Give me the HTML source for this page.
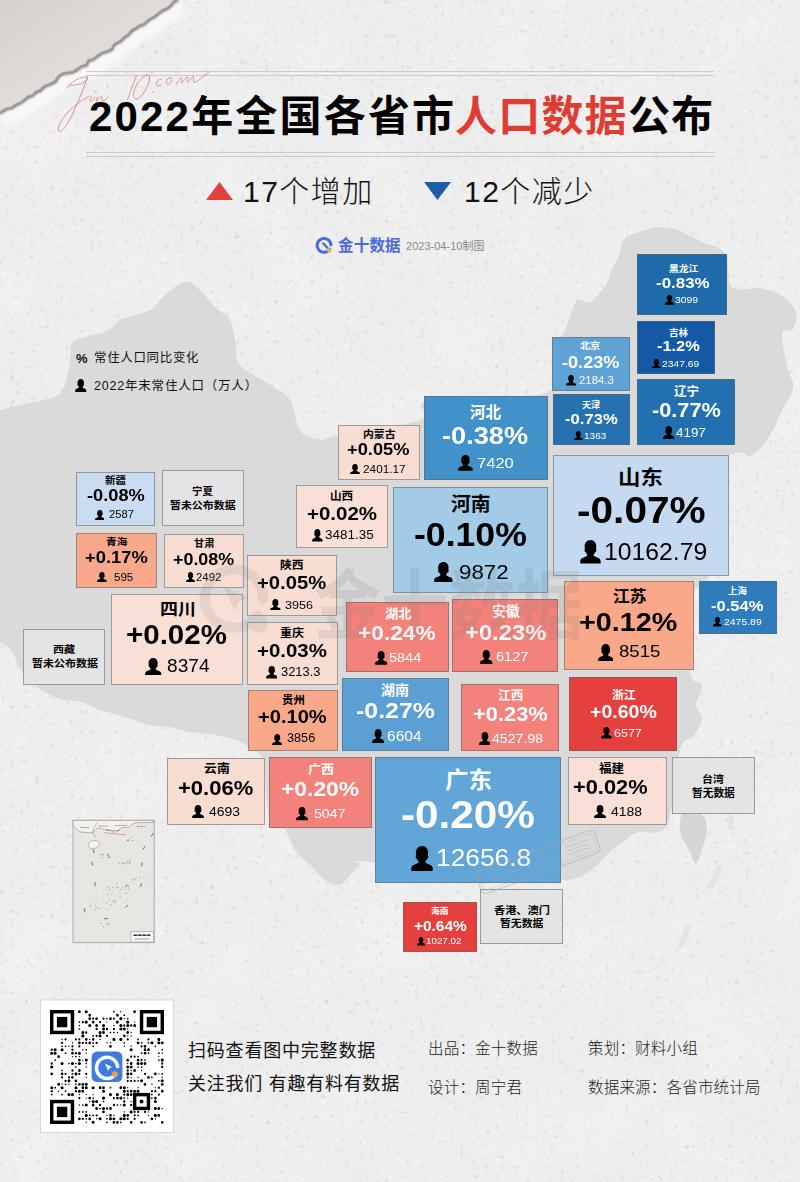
<!DOCTYPE html>
<html lang="zh"><head><meta charset="utf-8"><title>2022年全国各省市人口数据公布</title>
<style>
html,body{margin:0;padding:0}
body{width:800px;height:1182px;position:relative;overflow:hidden;background:#ededed;font-family:"Liberation Sans",sans-serif}
.t{position:absolute;display:block;overflow:visible}
.t text{font-family:"Liberation Sans","Noto Sans CJK SC",sans-serif;font-size:1000px}
.abs{position:absolute}
.tile{position:absolute;box-sizing:border-box;border:1px solid rgba(100,100,100,.58)}
.tile>*{margin:-1px 0 0 -1px}
.tile .pct{position:absolute;font-weight:bold;white-space:nowrap;transform-origin:0 0}
.tile .pop{position:absolute;white-space:nowrap;transform-origin:0 0}
.tile .ic{position:absolute;display:block;fill:#000}
.nd{background:#e4e4e4}
</style></head><body>
<svg class="abs" style="left:0;top:0;pointer-events:none" width="800" height="1182"><defs><filter id="nz" x="0" y="0" width="100%" height="100%"><feTurbulence type="fractalNoise" baseFrequency="0.2" numOctaves="2" seed="4" result="n"/><feColorMatrix type="matrix" values="0 0 0 0 0  0 0 0 0 0  0 0 0 0 0  4 0 0 0 -2.5"/><feGaussianBlur stdDeviation=".7"/></filter><filter id="nw" x="0" y="0" width="100%" height="100%"><feTurbulence type="fractalNoise" baseFrequency="0.16" numOctaves="2" seed="9" result="n"/><feColorMatrix type="matrix" values="0 0 0 0 1  0 0 0 0 1  0 0 0 0 1  4 0 0 0 -2.3"/><feGaussianBlur stdDeviation=".8"/></filter><filter id="bl" x="0" y="0" width="100%" height="100%"><feTurbulence type="fractalNoise" baseFrequency="0.012" numOctaves="3" seed="2"/><feColorMatrix type="matrix" values="0 0 0 0 1  0 0 0 0 1  0 0 0 0 1  1.4 0 0 0 -0.55"/></filter></defs><rect width="800" height="1182" filter="url(#bl)" opacity=".35"/><rect width="800" height="1182" filter="url(#nz)" opacity=".08"/><rect width="800" height="1182" filter="url(#nw)" opacity=".35"/></svg><svg class="abs" style="left:0;top:0" width="800" height="1182" viewBox="0 0 800 1182"><path d="M0 410C4 409 15 406 24 404C33 402 49 400 56 396C63 392 64 388 66 382C68 376 69 367 70 360C71 353 70 346 73 342C76 338 84 338 90 336C96 334 103 334 108 331C113 328 115 322 122 319C129 316 143 314 150 310C157 306 159 300 165 295C171 290 179 283 185 282C191 281 195 286 200 290C205 294 210 302 215 307C220 312 227 314 230 320C233 326 233 332 235 340C237 348 234 358 240 365C246 372 262 379 270 385C278 391 285 392 290 400C295 408 295 423 300 430C305 437 313 439 320 440C327 441 323 438 340 435C357 432 405 426 420 420C435 414 409 405 430 400C451 395 528 401 548 392C568 383 550 354 552 345C554 336 559 340 562 336C565 332 566 326 569 320C572 314 574 303 577 300C580 297 585 304 590 302C595 300 601 292 605 287C609 282 610 274 612 269C614 264 618 259 620 254C622 249 620 243 624 239C628 235 636 233 642 231C648 229 655 227 661 227C667 227 673 228 680 231C687 234 694 238 702 242C710 246 720 246 725 254C730 262 726 281 732 287C738 293 753 286 761 288C769 290 776 292 782 296C788 300 794 306 796 312C798 318 795 325 793 329C791 333 783 327 782 334C781 341 786 360 788 369C790 378 794 381 793 388C792 395 786 403 782 410C778 417 776 426 772 432C768 438 765 444 761 448C757 452 754 455 750 456C746 457 744 451 736 453C728 455 702 462 700 470C698 478 718 485 722 500C726 515 727 543 722 560C717 577 695 581 690 600C685 619 688 658 690 672C692 686 701 680 702 685C703 690 696 700 696 705C696 710 702 713 702 718C702 723 697 732 693 737C689 742 684 735 680 750C676 765 674 811 667 825C660 839 644 829 637 832C630 835 628 838 624 841C620 844 615 847 611 851C607 855 602 860 598 864C594 868 590 871 585 874C580 877 576 879 569 880C562 881 578 881 545 878C512 875 403 864 372 862C341 860 364 863 360 865C356 867 353 872 350 875C347 878 344 884 340 885C336 886 330 883 325 880C320 877 315 870 310 865C305 860 299 856 295 850C291 844 289 835 285 830C281 825 274 831 270 820C266 809 266 774 263 762C260 750 255 752 250 748C245 744 241 742 235 740C229 738 222 736 215 735C208 734 198 733 190 732C182 731 178 728 170 727C162 726 152 726 145 724C138 722 132 719 125 717C118 715 107 712 100 710C93 708 89 704 82 702C75 700 68 702 60 699C52 696 43 692 37 687C31 682 26 678 22 672C18 666 15 655 11 650C7 645 2 643 0 642Z" fill="#dadada"/></svg>
<svg class="abs" style="left:660px;top:800px" width="140" height="160" viewBox="660 800 140 160"><path d="M683 812C689 809 700 811 705 818C709 827 706 839 702 849C700 856 698 862 696 864C693 862 692 855 688 848C683 840 679 833 680 824C680 819 681 815 683 812Z" fill="#d6d6d6"/><g stroke="#e4e4e4" stroke-width="6" stroke-linecap="butt"><path d="M731 814v16"/><path d="M720 866l-10 22"/><path d="M689 925l-9 22"/></g></svg>
<svg class="abs" style="left:60px;top:810px" width="110" height="145" viewBox="60 810 110 145"><rect x="73.0" y="820.3" width="81.2" height="122.4" fill="#e7e6e3" stroke="#9c9c9c" stroke-width=".8"/><path d="M73 826.5c2 .6 3.600 1.600 4.500 3.400 1.500 2 4 2.600 6.500 2.300 3 .3 5.500 .8 8.500 .3 2.200-1 3.200-3.500 5.500-4.600 1.800-.5 3 .8 4.800 1.300 2.500 .6 5-.4 7.200 .7 2 1 3.500 2.600 5.700 2.200 2.600-.6 4-3.600 6.500-4.600 2.200-.6 4.400 .2 6.500-.4 2-.7 3-2.800 4.800-3.600l3.200-.8 16.500-.2V820.300H73z" fill="#f3f1ec" stroke="#8d7d6c" stroke-width=".55"/><path d="M91.5 841c-2.200 .6-3.600 2.800-3 5 .6 2.300 3 3.400 5.400 2.700 2.600-.7 5-2.600 5.600-5 .4-2-1.500-3.200-3.600-3.200-1.600 0-3 .1-4.400 .5z" fill="#f6f3ee" stroke="#8d7d6c" stroke-width=".5"/><path d="M97 822.5c-1 3-3.600 5-4 8.500-.3 2.600 1.200 5 3.600 6.500" fill="none" stroke="#7f93a8" stroke-width=".6"/><path d="M104 832.5c4 1.200 8.500 .6 13 1.600 3 .6 6 .2 9 .8" fill="none" stroke="#c25a55" stroke-width=".7" stroke-dasharray="1.6 .9"/><path d="M80 827.5h9M99 826h9M115 825.5h12M137 826.5h8M106 830.5h14" stroke="#6b5f55" stroke-width=".8" opacity=".7" stroke-dasharray="2.5 .8"/><path d="M151.2 836.4L153.1 833.1M143.0 849.5L144.9 846.2M141.7 866.2L142.0 862.4M140.5 886.8L141.8 883.2M125.4 907.6L128.1 904.9M104.2 919.0L108.0 918.3M84.4 908.5L85.1 912.3M94.9 882.4L95.2 886.2M91.8 861.8L92.8 865.5M93.1 849.5L94.3 853.1" stroke="#4a4a4a" stroke-width="1" opacity=".8"/><g fill="#56524d" opacity=".7"><circle cx="126.3" cy="893.0" r="0.54"/><circle cx="134.4" cy="879.8" r="0.42"/><circle cx="139.5" cy="884.2" r="0.33"/><circle cx="111.8" cy="894.7" r="0.44"/><circle cx="90.7" cy="905.9" r="0.53"/><circle cx="124.0" cy="888.5" r="0.33"/><circle cx="116.8" cy="883.3" r="0.52"/><circle cx="99.6" cy="908.4" r="0.52"/><circle cx="114.5" cy="900.4" r="0.47"/><circle cx="110.4" cy="904.9" r="0.54"/><circle cx="131.9" cy="879.0" r="0.34"/><circle cx="94.4" cy="902.0" r="0.45"/><circle cx="97.2" cy="906.9" r="0.38"/><circle cx="131.3" cy="880.9" r="0.42"/><circle cx="119.7" cy="892.6" r="0.31"/><circle cx="133.6" cy="879.3" r="0.50"/><circle cx="112.2" cy="891.4" r="0.31"/><circle cx="109.5" cy="899.6" r="0.49"/><circle cx="143.3" cy="877.7" r="0.39"/><circle cx="122.4" cy="887.6" r="0.49"/><circle cx="136.0" cy="878.1" r="0.54"/><circle cx="96.1" cy="907.5" r="0.53"/><circle cx="116.2" cy="898.8" r="0.38"/><circle cx="103.9" cy="893.8" r="0.34"/><circle cx="133.2" cy="883.0" r="0.31"/><circle cx="139.7" cy="876.7" r="0.36"/><circle cx="126.3" cy="889.7" r="0.41"/><circle cx="103.2" cy="901.5" r="0.42"/><circle cx="126.9" cy="885.4" r="0.54"/><circle cx="127.4" cy="884.2" r="0.41"/><circle cx="106.4" cy="901.8" r="0.41"/><circle cx="145.1" cy="883.3" r="0.41"/><circle cx="120.0" cy="893.3" r="0.37"/><circle cx="107.4" cy="894.7" r="0.55"/><circle cx="139.9" cy="878.7" r="0.38"/><circle cx="95.0" cy="909.7" r="0.52"/><circle cx="115.1" cy="901.0" r="0.47"/><circle cx="128.5" cy="886.3" r="0.48"/><circle cx="106.9" cy="903.5" r="0.47"/><circle cx="114.5" cy="901.6" r="0.45"/><circle cx="95.6" cy="905.6" r="0.47"/><circle cx="120.2" cy="896.2" r="0.50"/><circle cx="112.4" cy="901.0" r="0.51"/><circle cx="115.5" cy="902.5" r="0.47"/><circle cx="145.6" cy="878.4" r="0.43"/><circle cx="107.0" cy="909.2" r="0.42"/><rect x="107.8" y="857.2" width="1.8" height=".7"/><rect x="101.3" y="857.5" width="1.6" height=".7"/><rect x="107.4" y="855.7" width="1.7" height=".7"/><rect x="108.8" y="856.8" width="1.8" height=".7"/><rect x="99.5" y="854.4" width="1.4" height=".7"/><rect x="107.3" y="854.7" width="1.8" height=".7"/><rect x="107.0" y="853.8" width="1.5" height=".7"/><rect x="102.0" y="853.9" width="1.0" height=".7"/><rect x="103.1" y="854.5" width="1.1" height=".7"/><rect x="118.9" y="862.8" width="1.3" height=".7"/><rect x="126.0" y="863.4" width="1.1" height=".7"/><rect x="129.6" y="860.5" width="1.4" height=".7"/><rect x="121.9" y="862.5" width="1.0" height=".7"/><rect x="128.8" y="862.3" width="0.9" height=".7"/><rect x="126.1" y="861.0" width="1.6" height=".7"/><rect x="122.7" y="863.4" width="2.1" height=".7"/><rect x="128.6" y="862.6" width="1.9" height=".7"/><rect x="127.8" y="838.9" width="1.0" height=".7"/><rect x="127.2" y="839.9" width="2.1" height=".7"/><rect x="131.8" y="840.1" width="1.3" height=".7"/><rect x="130.9" y="837.1" width="1.0" height=".7"/><rect x="126.8" y="840.1" width="1.0" height=".7"/><rect x="102.9" y="926.1" width="1.3" height=".7"/><rect x="100.4" y="922.8" width="1.2" height=".7"/><rect x="107.1" y="923.6" width="2.1" height=".7"/><rect x="106.4" y="924.6" width="1.2" height=".7"/><rect x="116.8" y="887.0" width="1.4" height=".7"/><rect x="108.7" y="889.4" width="1.5" height=".7"/><rect x="108.2" y="886.9" width="1.0" height=".7"/><rect x="112.4" y="886.7" width="1.2" height=".7"/><rect x="128.1" y="888.6" width="0.8" height=".7"/><rect x="125.1" y="885.9" width="2.1" height=".7"/><rect x="128.1" y="885.8" width="1.2" height=".7"/><rect x="120.4" y="889.4" width="1.2" height=".7"/></g><rect x="131" y="931.7" width="22.5" height="10.3" fill="#f7f6f3" stroke="#8a8a8a" stroke-width=".5"/><path d="M133.5 935.3h17" stroke="#333" stroke-width="1.5" stroke-dasharray="3.8 .6"/><path d="M135 939h14" stroke="#666" stroke-width=".8" stroke-dasharray="1.5 .6"/></svg>
<div class="tile" style="left:637.0px;top:253.5px;width:90.0px;height:61.0px;background:#1f6aa8;color:#fff">
<svg class="t" style="left:31.65px;top:10.35px;width:29.36px;height:9.14px;fill:#fff;" viewBox="0 -880 3000 1000" preserveAspectRatio="none"><text x="0" y="0" textLength="3000" font-weight="bold">黑龙江</text></svg>
<div class="pct" style="left:19.21px;top:21.70px;font-size:15.38px;line-height:15.38px;transform:scaleX(1.100)">-0.83%</div>
<svg class="ic" viewBox="0 0 100 100" preserveAspectRatio="none" style="left:28.25px;top:41.75px;width:9.12px;height:9.75px"><path d="M51 0C33 0 22 12 22 28c0 5 1 9 2 12-3 0-4 4-2 7 1 3 3 4 5 4 2 5 5 9 8 11 0 4-2 6-7 8L10 77C4 80 1 85 1 92v4c0 2 2 4 4 4h90c2 0 4-2 4-4v-4c0-7-3-12-9-15L72 70c-5-2-7-4-7-8 3-2 6-6 8-11 2 0 4-1 5-4 2-3 1-7-2-7 1-3 2-7 2-12C78 12 67 0 51 0z"/></svg>
<div class="pop" style="left:37.85px;top:41.93px;font-size:9.72px;line-height:9.72px;transform:scaleX(1.070)">3099</div>
</div>
<div class="tile" style="left:637.0px;top:320.5px;width:77.5px;height:53.5px;background:#1459a6;color:#fff">
<svg class="t" style="left:31.85px;top:7.18px;width:19.02px;height:9.03px;fill:#fff;" viewBox="0 -880 2000 1000" preserveAspectRatio="none"><text x="0" y="0" textLength="2000" font-weight="bold">吉林</text></svg>
<div class="pct" style="left:19.61px;top:18.40px;font-size:14.90px;line-height:14.90px;transform:scaleX(1.100)">-1.2%</div>
<svg class="ic" viewBox="0 0 100 100" preserveAspectRatio="none" style="left:15.25px;top:38.00px;width:8.75px;height:9.62px"><path d="M51 0C33 0 22 12 22 28c0 5 1 9 2 12-3 0-4 4-2 7 1 3 3 4 5 4 2 5 5 9 8 11 0 4-2 6-7 8L10 77C4 80 1 85 1 92v4c0 2 2 4 4 4h90c2 0 4-2 4-4v-4c0-7-3-12-9-15L72 70c-5-2-7-4-7-8 3-2 6-6 8-11 2 0 4-1 5-4 2-3 1-7-2-7 1-3 2-7 2-12C78 12 67 0 51 0z"/></svg>
<div class="pop" style="left:25.23px;top:38.10px;font-size:9.63px;line-height:9.63px;transform:scaleX(1.070)">2347.69</div>
</div>
<div class="tile" style="left:637.0px;top:379.0px;width:98.0px;height:66.0px;background:#2270b0;color:#fff">
<svg class="t" style="left:36.75px;top:5.76px;width:25.10px;height:12.28px;fill:#fff;" viewBox="0 -880 2000 1000" preserveAspectRatio="none"><text x="0" y="0" textLength="2000" font-weight="bold">辽宁</text></svg>
<div class="pct" style="left:14.84px;top:21.59px;font-size:19.74px;line-height:19.74px;transform:scaleX(1.100)">-0.77%</div>
<svg class="ic" viewBox="0 0 100 100" preserveAspectRatio="none" style="left:26.27px;top:47.31px;width:11.41px;height:13.06px"><path d="M51 0C33 0 22 12 22 28c0 5 1 9 2 12-3 0-4 4-2 7 1 3 3 4 5 4 2 5 5 9 8 11 0 4-2 6-7 8L10 77C4 80 1 85 1 92v4c0 2 2 4 4 4h90c2 0 4-2 4-4v-4c0-7-3-12-9-15L72 70c-5-2-7-4-7-8 3-2 6-6 8-11 2 0 4-1 5-4 2-3 1-7-2-7 1-3 2-7 2-12C78 12 67 0 51 0z"/></svg>
<div class="pop" style="left:38.75px;top:47.54px;font-size:12.54px;line-height:12.54px;transform:scaleX(1.070)">4197</div>
</div>
<div class="tile" style="left:551.5px;top:337.0px;width:78.0px;height:53.5px;background:#5fa3d6;color:#fff">
<svg class="t" style="left:28.99px;top:3.88px;width:20.06px;height:9.55px;fill:#fff;" viewBox="0 -880 2000 1000" preserveAspectRatio="none"><text x="0" y="0" textLength="2000" font-weight="bold">北京</text></svg>
<div class="pct" style="left:10.29px;top:17.02px;font-size:16.48px;line-height:16.48px;transform:scaleX(1.100)">-0.23%</div>
<svg class="ic" viewBox="0 0 100 100" preserveAspectRatio="none" style="left:14.12px;top:38.00px;width:10.00px;height:10.62px"><path d="M51 0C33 0 22 12 22 28c0 5 1 9 2 12-3 0-4 4-2 7 1 3 3 4 5 4 2 5 5 9 8 11 0 4-2 6-7 8L10 77C4 80 1 85 1 92v4c0 2 2 4 4 4h90c2 0 4-2 4-4v-4c0-7-3-12-9-15L72 70c-5-2-7-4-7-8 3-2 6-6 8-11 2 0 4-1 5-4 2-3 1-7-2-7 1-3 2-7 2-12C78 12 67 0 51 0z"/></svg>
<div class="pop" style="left:27.93px;top:37.78px;font-size:10.64px;line-height:10.64px;transform:scaleX(1.070)">2184.3</div>
</div>
<div class="tile" style="left:553.0px;top:394.0px;width:76.5px;height:51.0px;background:#2672b0;color:#fff">
<svg class="t" style="left:29.05px;top:5.85px;width:18.21px;height:8.70px;fill:#fff;" viewBox="0 -880 2000 1000" preserveAspectRatio="none"><text x="0" y="0" textLength="2000" font-weight="bold">天津</text></svg>
<div class="pct" style="left:11.98px;top:17.14px;font-size:15.12px;line-height:15.12px;transform:scaleX(1.100)">-0.73%</div>
<svg class="ic" viewBox="0 0 100 100" preserveAspectRatio="none" style="left:20.75px;top:36.62px;width:8.75px;height:9.38px"><path d="M51 0C33 0 22 12 22 28c0 5 1 9 2 12-3 0-4 4-2 7 1 3 3 4 5 4 2 5 5 9 8 11 0 4-2 6-7 8L10 77C4 80 1 85 1 92v4c0 2 2 4 4 4h90c2 0 4-2 4-4v-4c0-7-3-12-9-15L72 70c-5-2-7-4-7-8 3-2 6-6 8-11 2 0 4-1 5-4 2-3 1-7-2-7 1-3 2-7 2-12C78 12 67 0 51 0z"/></svg>
<div class="pop" style="left:30.61px;top:36.57px;font-size:9.44px;line-height:9.44px;transform:scaleX(1.070)">1363</div>
</div>
<div class="tile" style="left:423.5px;top:395.5px;width:124.0px;height:84.5px;background:#4391c9;color:#fff">
<svg class="t" style="left:46.95px;top:8.02px;width:30.87px;height:15.48px;fill:#fff;" viewBox="0 -880 2000 1000" preserveAspectRatio="none"><text x="0" y="0" textLength="2000" font-weight="bold">河北</text></svg>
<div class="pct" style="left:18.44px;top:28.20px;font-size:24.71px;line-height:24.71px;transform:scaleX(1.100)">-0.38%</div>
<svg class="ic" viewBox="0 0 100 100" preserveAspectRatio="none" style="left:34.38px;top:59.88px;width:14.88px;height:15.75px"><path d="M51 0C33 0 22 12 22 28c0 5 1 9 2 12-3 0-4 4-2 7 1 3 3 4 5 4 2 5 5 9 8 11 0 4-2 6-7 8L10 77C4 80 1 85 1 92v4c0 2 2 4 4 4h90c2 0 4-2 4-4v-4c0-7-3-12-9-15L72 70c-5-2-7-4-7-8 3-2 6-6 8-11 2 0 4-1 5-4 2-3 1-7-2-7 1-3 2-7 2-12C78 12 67 0 51 0z"/></svg>
<div class="pop" style="left:53.30px;top:59.80px;font-size:15.48px;line-height:15.48px;transform:scaleX(1.070)">7420</div>
</div>
<div class="tile" style="left:552.5px;top:455.0px;width:176.5px;height:120.5px;background:#c5daf0;color:#000">
<svg class="t" style="left:65.80px;top:12.06px;width:44.81px;height:20.10px;fill:#000;" viewBox="0 -880 2000 1000" preserveAspectRatio="none"><text x="0" y="0" textLength="2000" font-weight="bold">山东</text></svg>
<div class="pct" style="left:24.71px;top:37.77px;font-size:36.91px;line-height:36.91px;transform:scaleX(1.100)">-0.07%</div>
<svg class="ic" viewBox="0 0 100 100" preserveAspectRatio="none" style="left:27.88px;top:85.00px;width:20.92px;height:23.62px"><path d="M51 0C33 0 22 12 22 28c0 5 1 9 2 12-3 0-4 4-2 7 1 3 3 4 5 4 2 5 5 9 8 11 0 4-2 6-7 8L10 77C4 80 1 85 1 92v4c0 2 2 4 4 4h90c2 0 4-2 4-4v-4c0-7-3-12-9-15L72 70c-5-2-7-4-7-8 3-2 6-6 8-11 2 0 4-1 5-4 2-3 1-7-2-7 1-3 2-7 2-12C78 12 67 0 51 0z"/></svg>
<div class="pop" style="left:51.87px;top:85.76px;font-size:23.12px;line-height:23.12px;transform:scaleX(1.070)">10162.79</div>
</div>
<div class="tile" style="left:392.5px;top:486.5px;width:155.5px;height:106.0px;background:#a1cbe6;color:#000">
<svg class="t" style="left:58.54px;top:7.89px;width:39.58px;height:19.29px;fill:#000;" viewBox="0 -880 2000 1000" preserveAspectRatio="none"><text x="0" y="0" textLength="2000" font-weight="bold">河南</text></svg>
<div class="pct" style="left:21.92px;top:32.49px;font-size:32.37px;line-height:32.37px;transform:scaleX(1.100)">-0.10%</div>
<svg class="ic" viewBox="0 0 100 100" preserveAspectRatio="none" style="left:41.38px;top:75.31px;width:18.70px;height:20.19px"><path d="M51 0C33 0 22 12 22 28c0 5 1 9 2 12-3 0-4 4-2 7 1 3 3 4 5 4 2 5 5 9 8 11 0 4-2 6-7 8L10 77C4 80 1 85 1 92v4c0 2 2 4 4 4h90c2 0 4-2 4-4v-4c0-7-3-12-9-15L72 70c-5-2-7-4-7-8 3-2 6-6 8-11 2 0 4-1 5-4 2-3 1-7-2-7 1-3 2-7 2-12C78 12 67 0 51 0z"/></svg>
<div class="pop" style="left:66.89px;top:75.06px;font-size:20.82px;line-height:20.82px;transform:scaleX(1.070)">9872</div>
</div>
<div class="tile" style="left:338.0px;top:424.5px;width:81.5px;height:55.5px;background:#f8ddd2;color:#000">
<svg class="t" style="left:24.60px;top:4.39px;width:32.56px;height:10.34px;fill:#000;" viewBox="0 -880 3000 1000" preserveAspectRatio="none"><text x="0" y="0" textLength="3000" font-weight="bold">内蒙古</text></svg>
<div class="pct" style="left:9.36px;top:17.47px;font-size:16.62px;line-height:16.62px;transform:scaleX(1.100)">+0.05%</div>
<svg class="ic" viewBox="0 0 100 100" preserveAspectRatio="none" style="left:12.00px;top:39.50px;width:10.00px;height:10.38px"><path d="M51 0C33 0 22 12 22 28c0 5 1 9 2 12-3 0-4 4-2 7 1 3 3 4 5 4 2 5 5 9 8 11 0 4-2 6-7 8L10 77C4 80 1 85 1 92v4c0 2 2 4 4 4h90c2 0 4-2 4-4v-4c0-7-3-12-9-15L72 70c-5-2-7-4-7-8 3-2 6-6 8-11 2 0 4-1 5-4 2-3 1-7-2-7 1-3 2-7 2-12C78 12 67 0 51 0z"/></svg>
<div class="pop" style="left:24.91px;top:39.02px;font-size:11.04px;line-height:11.04px;transform:scaleX(1.070)">2401.17</div>
</div>
<div class="tile" style="left:296.0px;top:485.0px;width:91.5px;height:62.5px;background:#f9e0d6;color:#000">
<svg class="t" style="left:34.36px;top:4.85px;width:23.19px;height:11.01px;fill:#000;" viewBox="0 -880 2000 1000" preserveAspectRatio="none"><text x="0" y="0" textLength="2000" font-weight="bold">山西</text></svg>
<div class="pct" style="left:10.86px;top:19.54px;font-size:18.62px;line-height:18.62px;transform:scaleX(1.100)">+0.02%</div>
<svg class="ic" viewBox="0 0 100 100" preserveAspectRatio="none" style="left:16.05px;top:44.45px;width:10.76px;height:12.60px"><path d="M51 0C33 0 22 12 22 28c0 5 1 9 2 12-3 0-4 4-2 7 1 3 3 4 5 4 2 5 5 9 8 11 0 4-2 6-7 8L10 77C4 80 1 85 1 92v4c0 2 2 4 4 4h90c2 0 4-2 4-4v-4c0-7-3-12-9-15L72 70c-5-2-7-4-7-8 3-2 6-6 8-11 2 0 4-1 5-4 2-3 1-7-2-7 1-3 2-7 2-12C78 12 67 0 51 0z"/></svg>
<div class="pop" style="left:29.19px;top:44.23px;font-size:12.60px;line-height:12.60px;transform:scaleX(1.070)">3481.35</div>
</div>
<div class="tile" style="left:75.5px;top:471.5px;width:79.0px;height:54.0px;background:#c9dcf2;color:#000">
<svg class="t" style="left:29.56px;top:3.88px;width:21.04px;height:9.85px;fill:#000;" viewBox="0 -880 2000 1000" preserveAspectRatio="none"><text x="0" y="0" textLength="2000" font-weight="bold">新疆</text></svg>
<div class="pct" style="left:11.16px;top:16.86px;font-size:16.59px;line-height:16.59px;transform:scaleX(1.100)">-0.08%</div>
<svg class="ic" viewBox="0 0 100 100" preserveAspectRatio="none" style="left:19.00px;top:38.50px;width:9.75px;height:10.25px"><path d="M51 0C33 0 22 12 22 28c0 5 1 9 2 12-3 0-4 4-2 7 1 3 3 4 5 4 2 5 5 9 8 11 0 4-2 6-7 8L10 77C4 80 1 85 1 92v4c0 2 2 4 4 4h90c2 0 4-2 4-4v-4c0-7-3-12-9-15L72 70c-5-2-7-4-7-8 3-2 6-6 8-11 2 0 4-1 5-4 2-3 1-7-2-7 1-3 2-7 2-12C78 12 67 0 51 0z"/></svg>
<div class="pop" style="left:33.81px;top:38.38px;font-size:10.45px;line-height:10.45px;transform:scaleX(1.070)">2587</div>
</div>
<div class="tile" style="left:75.5px;top:532.5px;width:81.0px;height:55.0px;background:#f8a98b;color:#000">
<svg class="t" style="left:30.05px;top:4.50px;width:21.43px;height:9.62px;fill:#000;" viewBox="0 -880 2000 1000" preserveAspectRatio="none"><text x="0" y="0" textLength="2000" font-weight="bold">青海</text></svg>
<div class="pct" style="left:9.23px;top:17.06px;font-size:16.68px;line-height:16.68px;transform:scaleX(1.100)">+0.17%</div>
<svg class="ic" viewBox="0 0 100 100" preserveAspectRatio="none" style="left:21.50px;top:39.62px;width:9.75px;height:10.00px"><path d="M51 0C33 0 22 12 22 28c0 5 1 9 2 12-3 0-4 4-2 7 1 3 3 4 5 4 2 5 5 9 8 11 0 4-2 6-7 8L10 77C4 80 1 85 1 92v4c0 2 2 4 4 4h90c2 0 4-2 4-4v-4c0-7-3-12-9-15L72 70c-5-2-7-4-7-8 3-2 6-6 8-11 2 0 4-1 5-4 2-3 1-7-2-7 1-3 2-7 2-12C78 12 67 0 51 0z"/></svg>
<div class="pop" style="left:38.04px;top:39.00px;font-size:10.82px;line-height:10.82px;transform:scaleX(1.070)">595</div>
</div>
<div class="tile" style="left:164.0px;top:533.5px;width:79.5px;height:54.0px;background:#f8ddd2;color:#000">
<svg class="t" style="left:29.68px;top:4.51px;width:20.47px;height:9.72px;fill:#000;" viewBox="0 -880 2000 1000" preserveAspectRatio="none"><text x="0" y="0" textLength="2000" font-weight="bold">甘肃</text></svg>
<div class="pct" style="left:9.25px;top:17.01px;font-size:16.28px;line-height:16.28px;transform:scaleX(1.100)">+0.08%</div>
<svg class="ic" viewBox="0 0 100 100" preserveAspectRatio="none" style="left:22.00px;top:38.50px;width:9.00px;height:10.25px"><path d="M51 0C33 0 22 12 22 28c0 5 1 9 2 12-3 0-4 4-2 7 1 3 3 4 5 4 2 5 5 9 8 11 0 4-2 6-7 8L10 77C4 80 1 85 1 92v4c0 2 2 4 4 4h90c2 0 4-2 4-4v-4c0-7-3-12-9-15L72 70c-5-2-7-4-7-8 3-2 6-6 8-11 2 0 4-1 5-4 2-3 1-7-2-7 1-3 2-7 2-12C78 12 67 0 51 0z"/></svg>
<div class="pop" style="left:32.30px;top:38.17px;font-size:10.62px;line-height:10.62px;transform:scaleX(1.070)">2492</div>
</div>
<div class="tile" style="left:246.5px;top:555.0px;width:90.0px;height:60.5px;background:#f8ddd2;color:#000">
<svg class="t" style="left:33.53px;top:4.27px;width:23.52px;height:11.22px;fill:#000;" viewBox="0 -880 2000 1000" preserveAspectRatio="none"><text x="0" y="0" textLength="2000" font-weight="bold">陕西</text></svg>
<div class="pct" style="left:10.76px;top:19.06px;font-size:18.41px;line-height:18.41px;transform:scaleX(1.100)">+0.05%</div>
<svg class="ic" viewBox="0 0 100 100" preserveAspectRatio="none" style="left:23.69px;top:43.53px;width:10.76px;height:11.81px"><path d="M51 0C33 0 22 12 22 28c0 5 1 9 2 12-3 0-4 4-2 7 1 3 3 4 5 4 2 5 5 9 8 11 0 4-2 6-7 8L10 77C4 80 1 85 1 92v4c0 2 2 4 4 4h90c2 0 4-2 4-4v-4c0-7-3-12-9-15L72 70c-5-2-7-4-7-8 3-2 6-6 8-11 2 0 4-1 5-4 2-3 1-7-2-7 1-3 2-7 2-12C78 12 67 0 51 0z"/></svg>
<div class="pop" style="left:38.96px;top:43.54px;font-size:11.74px;line-height:11.74px;transform:scaleX(1.070)">3956</div>
</div>
<div class="tile" style="left:110.5px;top:593.5px;width:132.5px;height:91.0px;background:#f9e0d6;color:#000">
<svg class="t" style="left:49.07px;top:6.83px;width:35.89px;height:16.62px;fill:#000;" viewBox="0 -880 2000 1000" preserveAspectRatio="none"><text x="0" y="0" textLength="2000" font-weight="bold">四川</text></svg>
<div class="pct" style="left:15.37px;top:28.68px;font-size:26.85px;line-height:26.85px;transform:scaleX(1.100)">+0.02%</div>
<svg class="ic" viewBox="0 0 100 100" preserveAspectRatio="none" style="left:34.74px;top:64.28px;width:16.31px;height:17.22px"><path d="M51 0C33 0 22 12 22 28c0 5 1 9 2 12-3 0-4 4-2 7 1 3 3 4 5 4 2 5 5 9 8 11 0 4-2 6-7 8L10 77C4 80 1 85 1 92v4c0 2 2 4 4 4h90c2 0 4-2 4-4v-4c0-7-3-12-9-15L72 70c-5-2-7-4-7-8 3-2 6-6 8-11 2 0 4-1 5-4 2-3 1-7-2-7 1-3 2-7 2-12C78 12 67 0 51 0z"/></svg>
<div class="pop" style="left:56.74px;top:64.19px;font-size:17.87px;line-height:17.87px;transform:scaleX(1.070)">8374</div>
</div>
<div class="tile" style="left:246.5px;top:621.5px;width:91.5px;height:63.0px;background:#f8ddd2;color:#000">
<svg class="t" style="left:33.94px;top:5.02px;width:24.07px;height:11.33px;fill:#000;" viewBox="0 -880 2000 1000" preserveAspectRatio="none"><text x="0" y="0" textLength="2000" font-weight="bold">重庆</text></svg>
<div class="pct" style="left:10.75px;top:20.18px;font-size:18.59px;line-height:18.59px;transform:scaleX(1.100)">+0.03%</div>
<svg class="ic" viewBox="0 0 100 100" preserveAspectRatio="none" style="left:19.49px;top:44.62px;width:11.42px;height:12.47px"><path d="M51 0C33 0 22 12 22 28c0 5 1 9 2 12-3 0-4 4-2 7 1 3 3 4 5 4 2 5 5 9 8 11 0 4-2 6-7 8L10 77C4 80 1 85 1 92v4c0 2 2 4 4 4h90c2 0 4-2 4-4v-4c0-7-3-12-9-15L72 70c-5-2-7-4-7-8 3-2 6-6 8-11 2 0 4-1 5-4 2-3 1-7-2-7 1-3 2-7 2-12C78 12 67 0 51 0z"/></svg>
<div class="pop" style="left:34.35px;top:44.93px;font-size:12.07px;line-height:12.07px;transform:scaleX(1.070)">3213.3</div>
</div>
<div class="tile" style="left:346.0px;top:601.5px;width:102.5px;height:70.0px;background:#f3827b;color:#fff">
<svg class="t" style="left:38.96px;top:5.02px;width:26.38px;height:12.69px;fill:#fff;" viewBox="0 -880 2000 1000" preserveAspectRatio="none"><text x="0" y="0" textLength="2000" font-weight="bold">湖北</text></svg>
<div class="pct" style="left:12.45px;top:21.93px;font-size:20.67px;line-height:20.67px;transform:scaleX(1.100)">+0.24%</div>
<svg class="ic" viewBox="0 0 100 100" preserveAspectRatio="none" style="left:28.50px;top:49.56px;width:12.22px;height:13.66px"><path d="M51 0C33 0 22 12 22 28c0 5 1 9 2 12-3 0-4 4-2 7 1 3 3 4 5 4 2 5 5 9 8 11 0 4-2 6-7 8L10 77C4 80 1 85 1 92v4c0 2 2 4 4 4h90c2 0 4-2 4-4v-4c0-7-3-12-9-15L72 70c-5-2-7-4-7-8 3-2 6-6 8-11 2 0 4-1 5-4 2-3 1-7-2-7 1-3 2-7 2-12C78 12 67 0 51 0z"/></svg>
<div class="pop" style="left:43.45px;top:49.60px;font-size:13.53px;line-height:13.53px;transform:scaleX(1.070)">5844</div>
</div>
<div class="tile" style="left:452.0px;top:598.5px;width:106.0px;height:73.0px;background:#f3827b;color:#fff">
<svg class="t" style="left:40.32px;top:5.48px;width:27.83px;height:13.31px;fill:#fff;" viewBox="0 -880 2000 1000" preserveAspectRatio="none"><text x="0" y="0" textLength="2000" font-weight="bold">安徽</text></svg>
<div class="pct" style="left:12.88px;top:23.05px;font-size:21.61px;line-height:21.61px;transform:scaleX(1.100)">+0.23%</div>
<svg class="ic" viewBox="0 0 100 100" preserveAspectRatio="none" style="left:28.19px;top:51.76px;width:12.54px;height:14.01px"><path d="M51 0C33 0 22 12 22 28c0 5 1 9 2 12-3 0-4 4-2 7 1 3 3 4 5 4 2 5 5 9 8 11 0 4-2 6-7 8L10 77C4 80 1 85 1 92v4c0 2 2 4 4 4h90c2 0 4-2 4-4v-4c0-7-3-12-9-15L72 70c-5-2-7-4-7-8 3-2 6-6 8-11 2 0 4-1 5-4 2-3 1-7-2-7 1-3 2-7 2-12C78 12 67 0 51 0z"/></svg>
<div class="pop" style="left:44.41px;top:51.77px;font-size:13.63px;line-height:13.63px;transform:scaleX(1.070)">6127</div>
</div>
<div class="tile" style="left:563.5px;top:581.0px;width:130.5px;height:89.0px;background:#f9a88a;color:#000">
<svg class="t" style="left:49.36px;top:6.60px;width:33.54px;height:16.11px;fill:#000;" viewBox="0 -880 2000 1000" preserveAspectRatio="none"><text x="0" y="0" textLength="2000" font-weight="bold">江苏</text></svg>
<div class="pct" style="left:15.48px;top:27.73px;font-size:26.15px;line-height:26.15px;transform:scaleX(1.100)">+0.12%</div>
<svg class="ic" viewBox="0 0 100 100" preserveAspectRatio="none" style="left:34.44px;top:62.87px;width:15.44px;height:17.22px"><path d="M51 0C33 0 22 12 22 28c0 5 1 9 2 12-3 0-4 4-2 7 1 3 3 4 5 4 2 5 5 9 8 11 0 4-2 6-7 8L10 77C4 80 1 85 1 92v4c0 2 2 4 4 4h90c2 0 4-2 4-4v-4c0-7-3-12-9-15L72 70c-5-2-7-4-7-8 3-2 6-6 8-11 2 0 4-1 5-4 2-3 1-7-2-7 1-3 2-7 2-12C78 12 67 0 51 0z"/></svg>
<div class="pop" style="left:55.46px;top:62.49px;font-size:17.37px;line-height:17.37px;transform:scaleX(1.070)">8515</div>
</div>
<div class="tile" style="left:699.0px;top:581.0px;width:77.5px;height:52.5px;background:#2e7cbc;color:#fff">
<svg class="t" style="left:29.07px;top:5.34px;width:18.90px;height:8.90px;fill:#fff;" viewBox="0 -880 2000 1000" preserveAspectRatio="none"><text x="0" y="0" textLength="2000" font-weight="bold">上海</text></svg>
<div class="pct" style="left:12.25px;top:16.53px;font-size:15.06px;line-height:15.06px;transform:scaleX(1.100)">-0.54%</div>
<svg class="ic" viewBox="0 0 100 100" preserveAspectRatio="none" style="left:14.25px;top:36.19px;width:8.77px;height:9.56px"><path d="M51 0C33 0 22 12 22 28c0 5 1 9 2 12-3 0-4 4-2 7 1 3 3 4 5 4 2 5 5 9 8 11 0 4-2 6-7 8L10 77C4 80 1 85 1 92v4c0 2 2 4 4 4h90c2 0 4-2 4-4v-4c0-7-3-12-9-15L72 70c-5-2-7-4-7-8 3-2 6-6 8-11 2 0 4-1 5-4 2-3 1-7-2-7 1-3 2-7 2-12C78 12 67 0 51 0z"/></svg>
<div class="pop" style="left:25.20px;top:36.13px;font-size:9.75px;line-height:9.75px;transform:scaleX(1.070)">2475.89</div>
</div>
<div class="tile" style="left:248.0px;top:689.5px;width:90.0px;height:61.0px;background:#f9a88a;color:#000">
<svg class="t" style="left:33.58px;top:4.25px;width:22.98px;height:11.22px;fill:#000;" viewBox="0 -880 2000 1000" preserveAspectRatio="none"><text x="0" y="0" textLength="2000" font-weight="bold">贵州</text></svg>
<div class="pct" style="left:10.48px;top:18.91px;font-size:18.27px;line-height:18.27px;transform:scaleX(1.100)">+0.10%</div>
<svg class="ic" viewBox="0 0 100 100" preserveAspectRatio="none" style="left:23.93px;top:44.03px;width:10.50px;height:11.42px"><path d="M51 0C33 0 22 12 22 28c0 5 1 9 2 12-3 0-4 4-2 7 1 3 3 4 5 4 2 5 5 9 8 11 0 4-2 6-7 8L10 77C4 80 1 85 1 92v4c0 2 2 4 4 4h90c2 0 4-2 4-4v-4c0-7-3-12-9-15L72 70c-5-2-7-4-7-8 3-2 6-6 8-11 2 0 4-1 5-4 2-3 1-7-2-7 1-3 2-7 2-12C78 12 67 0 51 0z"/></svg>
<div class="pop" style="left:38.80px;top:43.85px;font-size:11.85px;line-height:11.85px;transform:scaleX(1.070)">3856</div>
</div>
<div class="tile" style="left:341.5px;top:677.5px;width:107.0px;height:73.0px;background:#5b9fd5;color:#fff">
<svg class="t" style="left:39.96px;top:5.12px;width:28.10px;height:13.61px;fill:#fff;" viewBox="0 -880 2000 1000" preserveAspectRatio="none"><text x="0" y="0" textLength="2000" font-weight="bold">湖南</text></svg>
<div class="pct" style="left:14.28px;top:22.26px;font-size:22.63px;line-height:22.63px;transform:scaleX(1.100)">-0.27%</div>
<svg class="ic" viewBox="0 0 100 100" preserveAspectRatio="none" style="left:30.70px;top:51.70px;width:12.30px;height:14.10px"><path d="M51 0C33 0 22 12 22 28c0 5 1 9 2 12-3 0-4 4-2 7 1 3 3 4 5 4 2 5 5 9 8 11 0 4-2 6-7 8L10 77C4 80 1 85 1 92v4c0 2 2 4 4 4h90c2 0 4-2 4-4v-4c0-7-3-12-9-15L72 70c-5-2-7-4-7-8 3-2 6-6 8-11 2 0 4-1 5-4 2-3 1-7-2-7 1-3 2-7 2-12C78 12 67 0 51 0z"/></svg>
<div class="pop" style="left:45.21px;top:51.61px;font-size:14.51px;line-height:14.51px;transform:scaleX(1.070)">6604</div>
</div>
<div class="tile" style="left:461.0px;top:684.0px;width:98.0px;height:66.5px;background:#f3827b;color:#fff">
<svg class="t" style="left:36.92px;top:5.00px;width:25.33px;height:12.24px;fill:#fff;" viewBox="0 -880 2000 1000" preserveAspectRatio="none"><text x="0" y="0" textLength="2000" font-weight="bold">江西</text></svg>
<div class="pct" style="left:11.64px;top:21.12px;font-size:19.88px;line-height:19.88px;transform:scaleX(1.100)">+0.23%</div>
<svg class="ic" viewBox="0 0 100 100" preserveAspectRatio="none" style="left:17.65px;top:47.62px;width:11.83px;height:13.06px"><path d="M51 0C33 0 22 12 22 28c0 5 1 9 2 12-3 0-4 4-2 7 1 3 3 4 5 4 2 5 5 9 8 11 0 4-2 6-7 8L10 77C4 80 1 85 1 92v4c0 2 2 4 4 4h90c2 0 4-2 4-4v-4c0-7-3-12-9-15L72 70c-5-2-7-4-7-8 3-2 6-6 8-11 2 0 4-1 5-4 2-3 1-7-2-7 1-3 2-7 2-12C78 12 67 0 51 0z"/></svg>
<div class="pop" style="left:30.80px;top:47.52px;font-size:13.22px;line-height:13.22px;transform:scaleX(1.070)">4527.98</div>
</div>
<div class="tile" style="left:568.5px;top:677.0px;width:108.0px;height:74.0px;background:#e5403d;color:#fff">
<svg class="t" style="left:43.94px;top:12.29px;width:23.67px;height:11.44px;fill:#fff;" viewBox="0 -880 2000 1000" preserveAspectRatio="none"><text x="0" y="0" textLength="2000" font-weight="bold">浙江</text></svg>
<div class="pct" style="left:21.93px;top:27.07px;font-size:17.78px;line-height:17.78px;transform:scaleX(1.100)">+0.60%</div>
<svg class="ic" viewBox="0 0 100 100" preserveAspectRatio="none" style="left:32.80px;top:50.25px;width:10.95px;height:11.55px"><path d="M51 0C33 0 22 12 22 28c0 5 1 9 2 12-3 0-4 4-2 7 1 3 3 4 5 4 2 5 5 9 8 11 0 4-2 6-7 8L10 77C4 80 1 85 1 92v4c0 2 2 4 4 4h90c2 0 4-2 4-4v-4c0-7-3-12-9-15L72 70c-5-2-7-4-7-8 3-2 6-6 8-11 2 0 4-1 5-4 2-3 1-7-2-7 1-3 2-7 2-12C78 12 67 0 51 0z"/></svg>
<div class="pop" style="left:45.07px;top:50.16px;font-size:11.68px;line-height:11.68px;transform:scaleX(1.070)">6577</div>
</div>
<div class="tile" style="left:166.5px;top:757.5px;width:98.5px;height:67.5px;background:#f8ddd2;color:#000">
<svg class="t" style="left:37.05px;top:4.71px;width:25.75px;height:12.34px;fill:#000;" viewBox="0 -880 2000 1000" preserveAspectRatio="none"><text x="0" y="0" textLength="2000" font-weight="bold">云南</text></svg>
<div class="pct" style="left:11.90px;top:20.90px;font-size:20.02px;line-height:20.02px;transform:scaleX(1.100)">+0.06%</div>
<svg class="ic" viewBox="0 0 100 100" preserveAspectRatio="none" style="left:25.98px;top:47.82px;width:12.04px;height:13.16px"><path d="M51 0C33 0 22 12 22 28c0 5 1 9 2 12-3 0-4 4-2 7 1 3 3 4 5 4 2 5 5 9 8 11 0 4-2 6-7 8L10 77C4 80 1 85 1 92v4c0 2 2 4 4 4h90c2 0 4-2 4-4v-4c0-7-3-12-9-15L72 70c-5-2-7-4-7-8 3-2 6-6 8-11 2 0 4-1 5-4 2-3 1-7-2-7 1-3 2-7 2-12C78 12 67 0 51 0z"/></svg>
<div class="pop" style="left:42.18px;top:47.85px;font-size:13.04px;line-height:13.04px;transform:scaleX(1.070)">4693</div>
</div>
<div class="tile" style="left:269.0px;top:757.0px;width:102.5px;height:70.5px;background:#f3827b;color:#fff">
<svg class="t" style="left:38.85px;top:5.82px;width:26.10px;height:12.50px;fill:#fff;" viewBox="0 -880 2000 1000" preserveAspectRatio="none"><text x="0" y="0" textLength="2000" font-weight="bold">广西</text></svg>
<div class="pct" style="left:12.34px;top:22.36px;font-size:20.77px;line-height:20.77px;transform:scaleX(1.100)">+0.20%</div>
<svg class="ic" viewBox="0 0 100 100" preserveAspectRatio="none" style="left:27.07px;top:50.26px;width:12.04px;height:13.34px"><path d="M51 0C33 0 22 12 22 28c0 5 1 9 2 12-3 0-4 4-2 7 1 3 3 4 5 4 2 5 5 9 8 11 0 4-2 6-7 8L10 77C4 80 1 85 1 92v4c0 2 2 4 4 4h90c2 0 4-2 4-4v-4c0-7-3-12-9-15L72 70c-5-2-7-4-7-8 3-2 6-6 8-11 2 0 4-1 5-4 2-3 1-7-2-7 1-3 2-7 2-12C78 12 67 0 51 0z"/></svg>
<div class="pop" style="left:44.63px;top:50.30px;font-size:13.21px;line-height:13.21px;transform:scaleX(1.070)">5047</div>
</div>
<div class="tile" style="left:375.0px;top:757.0px;width:185.5px;height:126.0px;background:#62a6d8;color:#fff">
<svg class="t" style="left:69.53px;top:10.88px;width:47.11px;height:22.41px;fill:#fff;" viewBox="0 -880 2000 1000" preserveAspectRatio="none"><text x="0" y="0" textLength="2000" font-weight="bold">广东</text></svg>
<div class="pct" style="left:26.35px;top:39.44px;font-size:38.45px;line-height:38.45px;transform:scaleX(1.100)">-0.20%</div>
<svg class="ic" viewBox="0 0 100 100" preserveAspectRatio="none" style="left:35.50px;top:89.25px;width:22.00px;height:25.00px"><path d="M51 0C33 0 22 12 22 28c0 5 1 9 2 12-3 0-4 4-2 7 1 3 3 4 5 4 2 5 5 9 8 11 0 4-2 6-7 8L10 77C4 80 1 85 1 92v4c0 2 2 4 4 4h90c2 0 4-2 4-4v-4c0-7-3-12-9-15L72 70c-5-2-7-4-7-8 3-2 6-6 8-11 2 0 4-1 5-4 2-3 1-7-2-7 1-3 2-7 2-12C78 12 67 0 51 0z"/></svg>
<div class="pop" style="left:61.49px;top:89.39px;font-size:24.60px;line-height:24.60px;transform:scaleX(1.070)">12656.8</div>
</div>
<div class="tile" style="left:568.0px;top:757.0px;width:98.5px;height:67.5px;background:#f9e0d6;color:#000">
<svg class="t" style="left:30.58px;top:5.41px;width:25.05px;height:12.16px;fill:#000;" viewBox="0 -880 2000 1000" preserveAspectRatio="none"><text x="0" y="0" textLength="2000" font-weight="bold">福建</text></svg>
<div class="pct" style="left:5.40px;top:21.49px;font-size:19.83px;line-height:19.83px;transform:scaleX(1.100)">+0.02%</div>
<svg class="ic" viewBox="0 0 100 100" preserveAspectRatio="none" style="left:26.48px;top:48.32px;width:12.04px;height:13.16px"><path d="M51 0C33 0 22 12 22 28c0 5 1 9 2 12-3 0-4 4-2 7 1 3 3 4 5 4 2 5 5 9 8 11 0 4-2 6-7 8L10 77C4 80 1 85 1 92v4c0 2 2 4 4 4h90c2 0 4-2 4-4v-4c0-7-3-12-9-15L72 70c-5-2-7-4-7-8 3-2 6-6 8-11 2 0 4-1 5-4 2-3 1-7-2-7 1-3 2-7 2-12C78 12 67 0 51 0z"/></svg>
<div class="pop" style="left:42.68px;top:48.35px;font-size:13.03px;line-height:13.03px;transform:scaleX(1.070)">4188</div>
</div>
<div class="tile" style="left:403.0px;top:901.5px;width:73.5px;height:50.0px;background:#e5403d;color:#fff">
<svg class="t" style="left:28.34px;top:5.84px;width:17.51px;height:8.46px;fill:#fff;" viewBox="0 -880 2000 1000" preserveAspectRatio="none"><text x="0" y="0" textLength="2000" font-weight="bold">海南</text></svg>
<div class="pct" style="left:10.55px;top:17.00px;font-size:14.00px;line-height:14.00px;transform:scaleX(1.100)">+0.64%</div>
<svg class="ic" viewBox="0 0 100 100" preserveAspectRatio="none" style="left:14.21px;top:35.64px;width:7.96px;height:8.60px"><path d="M51 0C33 0 22 12 22 28c0 5 1 9 2 12-3 0-4 4-2 7 1 3 3 4 5 4 2 5 5 9 8 11 0 4-2 6-7 8L10 77C4 80 1 85 1 92v4c0 2 2 4 4 4h90c2 0 4-2 4-4v-4c0-7-3-12-9-15L72 70c-5-2-7-4-7-8 3-2 6-6 8-11 2 0 4-1 5-4 2-3 1-7-2-7 1-3 2-7 2-12C78 12 67 0 51 0z"/></svg>
<div class="pop" style="left:23.35px;top:35.34px;font-size:9.16px;line-height:9.16px;transform:scaleX(1.070)">1027.02</div>
</div>
<div class="tile nd" style="left:161.5px;top:469.5px;width:82.0px;height:56.0px">
<svg class="t" style="left:30.34px;top:16.56px;width:21.09px;height:10.14px;fill:#000;" viewBox="0 -880 2000 1000" preserveAspectRatio="none"><text x="0" y="0" textLength="2000" font-weight="bold">宁夏</text></svg>
<svg class="t" style="left:8.36px;top:30.04px;width:65.55px;height:10.23px;fill:#000;" viewBox="0 -880 6000 1000" preserveAspectRatio="none"><text x="0" y="0" textLength="6000" font-weight="bold">暂未公布数据</text></svg>
</div>
<div class="tile nd" style="left:23.0px;top:628.5px;width:82.0px;height:56.0px">
<svg class="t" style="left:30.33px;top:15.44px;width:22.02px;height:9.83px;fill:#000;" viewBox="0 -880 2000 1000" preserveAspectRatio="none"><text x="0" y="0" textLength="2000" font-weight="bold">西藏</text></svg>
<svg class="t" style="left:8.60px;top:29.87px;width:66.05px;height:10.38px;fill:#000;" viewBox="0 -880 6000 1000" preserveAspectRatio="none"><text x="0" y="0" textLength="6000" font-weight="bold">暂未公布数据</text></svg>
</div>
<div class="tile nd" style="left:671.5px;top:757.0px;width:83.0px;height:56.5px">
<svg class="t" style="left:30.61px;top:16.58px;width:21.76px;height:10.56px;fill:#000;" viewBox="0 -880 2000 1000" preserveAspectRatio="none"><text x="0" y="0" textLength="2000" font-weight="bold">台湾</text></svg>
<svg class="t" style="left:20.61px;top:29.81px;width:42.78px;height:10.83px;fill:#000;" viewBox="0 -880 4000 1000" preserveAspectRatio="none"><text x="0" y="0" textLength="4000" font-weight="bold">暂无数据</text></svg>
</div>
<div class="tile nd" style="left:480.0px;top:888.5px;width:82.5px;height:55.5px">
<svg class="t" style="left:13.57px;top:16.12px;width:55.80px;height:10.30px;fill:#000;" viewBox="0 -880 5000 1000" preserveAspectRatio="none"><text x="0" y="0" textLength="5000" font-weight="bold">香港、澳门</text></svg>
<svg class="t" style="left:20.21px;top:29.05px;width:43.39px;height:10.44px;fill:#000;" viewBox="0 -880 4000 1000" preserveAspectRatio="none"><text x="0" y="0" textLength="4000" font-weight="bold">暂无数据</text></svg>
</div>
<svg class="abs" style="left:196px;top:561px;opacity:.13" width="76" height="76" viewBox="0 0 34 34"><path d="M27.5 24.5A13 13 0 1 1 30 17" fill="none" stroke="#777" stroke-width="4.6" stroke-linecap="round"/><path d="M12 11l11 5.5-4 1.8-1.700 4.200z" fill="#777"/><circle cx="28" cy="28" r="4.2" fill="#777"/></svg>
<svg class="t" style="left:314.00px;top:566.00px;width:269.04px;height:76.00px;fill:#777;opacity:0.15;" viewBox="0 -880 4000 1000" preserveAspectRatio="none"><text x="0" y="0" textLength="4000" font-weight="bold">金十数据</text></svg>
<svg class="abs" style="left:468px;top:802px;opacity:.42" width="140" height="120" viewBox="-70 -60 140 120"><g transform="rotate(-20)" fill="none" stroke="#a4a4a4"><rect x="-63" y="-12" width="126" height="24" rx="5" stroke-width="1.3"/><rect x="-60" y="-9" width="120" height="18" rx="3.5" stroke-width=".6"/><path d="M30 -4c3-2 5 2 8 0s5 2 8 0 5 2 8 0M30 0c3-2 5 2 8 0s5 2 8 0 5 2 8 0M30 4c3-2 5 2 8 0s5 2 8 0 5 2 8 0" stroke-width=".9"/><path d="M-52 0h74" stroke-width="5" stroke-dasharray="7 2.2" opacity=".4"/></g></svg>
<svg class="abs" style="left:0;top:990px" width="200" height="160" viewBox="0 990 200 160"><rect x="40.4" y="1000" width="133.2" height="132.4" fill="#fff" stroke="#d0d0d0" stroke-width=".8"/><rect x="51.73" y="1011.73" width="20.73" height="20.73" fill="none" stroke="#000" stroke-width="3.45"/><rect x="56.91" y="1016.91" width="10.36" height="10.36" fill="#000"/><rect x="141.55" y="1011.73" width="20.73" height="20.73" fill="none" stroke="#000" stroke-width="3.45"/><rect x="146.73" y="1016.91" width="10.36" height="10.36" fill="#000"/><rect x="51.73" y="1101.55" width="20.73" height="20.73" fill="none" stroke="#000" stroke-width="3.45"/><rect x="56.91" y="1106.73" width="10.36" height="10.36" fill="#000"/><rect x="134.64" y="1094.64" width="13.82" height="13.82" fill="none" stroke="#000" stroke-width="3.45"/><rect x="139.82" y="1099.82" width="3.45" height="3.45" fill="#000"/><path d="M78.1 1011.7a1.30 1.30 0 1 0 2.59 0a1.30 1.30 0 1 0 -2.59 0M84.7 1011.7a1.55 1.55 0 1 0 3.11 0a1.55 1.55 0 1 0 -3.11 0M113.0 1011.7a0.86 0.86 0 1 0 1.73 0a0.86 0.86 0 1 0 -1.73 0M120.1 1011.7a0.69 0.69 0 1 0 1.38 0a0.69 0.69 0 1 0 -1.38 0M133.3 1011.7a1.30 1.30 0 1 0 2.59 0a1.30 1.30 0 1 0 -2.59 0M88.4 1015.2a1.30 1.30 0 1 0 2.59 0a1.30 1.30 0 1 0 -2.59 0M116.1 1015.2a1.30 1.30 0 1 0 2.59 0a1.30 1.30 0 1 0 -2.59 0M123.4 1015.2a0.86 0.86 0 1 0 1.73 0a0.86 0.86 0 1 0 -1.73 0M88.4 1018.6a1.30 1.30 0 1 0 2.59 0a1.30 1.30 0 1 0 -2.59 0M92.1 1018.6a1.04 1.04 0 1 0 2.07 0a1.04 1.04 0 1 0 -2.07 0M95.3 1018.6a1.30 1.30 0 1 0 2.59 0a1.30 1.30 0 1 0 -2.59 0M102.5 1018.6a1.04 1.04 0 1 0 2.07 0a1.04 1.04 0 1 0 -2.07 0M106.1 1018.6a0.86 0.86 0 1 0 1.73 0a0.86 0.86 0 1 0 -1.73 0M109.2 1018.6a1.30 1.30 0 1 0 2.59 0a1.30 1.30 0 1 0 -2.59 0M112.9 1018.6a1.04 1.04 0 1 0 2.07 0a1.04 1.04 0 1 0 -2.07 0M119.3 1018.6a1.55 1.55 0 1 0 3.11 0a1.55 1.55 0 1 0 -3.11 0M123.6 1018.6a0.69 0.69 0 1 0 1.38 0a0.69 0.69 0 1 0 -1.38 0M126.9 1018.6a0.86 0.86 0 1 0 1.73 0a0.86 0.86 0 1 0 -1.73 0M78.5 1022.1a0.86 0.86 0 1 0 1.73 0a0.86 0.86 0 1 0 -1.73 0M81.8 1022.1a1.04 1.04 0 1 0 2.07 0a1.04 1.04 0 1 0 -2.07 0M84.7 1022.1a1.55 1.55 0 1 0 3.11 0a1.55 1.55 0 1 0 -3.11 0M91.9 1022.1a1.30 1.30 0 1 0 2.59 0a1.30 1.30 0 1 0 -2.59 0M99.1 1022.1a1.04 1.04 0 1 0 2.07 0a1.04 1.04 0 1 0 -2.07 0M106.3 1022.1a0.69 0.69 0 1 0 1.38 0a0.69 0.69 0 1 0 -1.38 0M115.8 1022.1a1.55 1.55 0 1 0 3.11 0a1.55 1.55 0 1 0 -3.11 0M126.2 1022.1a1.55 1.55 0 1 0 3.11 0a1.55 1.55 0 1 0 -3.11 0M133.9 1022.1a0.69 0.69 0 1 0 1.38 0a0.69 0.69 0 1 0 -1.38 0M78.7 1025.5a0.69 0.69 0 1 0 1.38 0a0.69 0.69 0 1 0 -1.38 0M88.2 1025.5a1.55 1.55 0 1 0 3.11 0a1.55 1.55 0 1 0 -3.11 0M95.3 1025.5a1.30 1.30 0 1 0 2.59 0a1.30 1.30 0 1 0 -2.59 0M102.0 1025.5a1.55 1.55 0 1 0 3.11 0a1.55 1.55 0 1 0 -3.11 0M113.2 1025.5a0.69 0.69 0 1 0 1.38 0a0.69 0.69 0 1 0 -1.38 0M119.3 1025.5a1.55 1.55 0 1 0 3.11 0a1.55 1.55 0 1 0 -3.11 0M123.2 1025.5a1.04 1.04 0 1 0 2.07 0a1.04 1.04 0 1 0 -2.07 0M126.2 1025.5a1.55 1.55 0 1 0 3.11 0a1.55 1.55 0 1 0 -3.11 0M130.1 1025.5a1.04 1.04 0 1 0 2.07 0a1.04 1.04 0 1 0 -2.07 0M133.1 1025.5a1.55 1.55 0 1 0 3.11 0a1.55 1.55 0 1 0 -3.11 0M78.5 1029.0a0.86 0.86 0 1 0 1.73 0a0.86 0.86 0 1 0 -1.73 0M95.6 1029.0a1.04 1.04 0 1 0 2.07 0a1.04 1.04 0 1 0 -2.07 0M102.0 1029.0a1.55 1.55 0 1 0 3.11 0a1.55 1.55 0 1 0 -3.11 0M106.0 1029.0a1.04 1.04 0 1 0 2.07 0a1.04 1.04 0 1 0 -2.07 0M112.9 1029.0a1.04 1.04 0 1 0 2.07 0a1.04 1.04 0 1 0 -2.07 0M119.3 1029.0a1.55 1.55 0 1 0 3.11 0a1.55 1.55 0 1 0 -3.11 0M122.7 1029.0a1.55 1.55 0 1 0 3.11 0a1.55 1.55 0 1 0 -3.11 0M127.0 1029.0a0.69 0.69 0 1 0 1.38 0a0.69 0.69 0 1 0 -1.38 0M81.3 1032.5a1.55 1.55 0 1 0 3.11 0a1.55 1.55 0 1 0 -3.11 0M85.2 1032.5a1.04 1.04 0 1 0 2.07 0a1.04 1.04 0 1 0 -2.07 0M98.5 1032.5a1.55 1.55 0 1 0 3.11 0a1.55 1.55 0 1 0 -3.11 0M102.2 1032.5a1.30 1.30 0 1 0 2.59 0a1.30 1.30 0 1 0 -2.59 0M109.6 1032.5a0.86 0.86 0 1 0 1.73 0a0.86 0.86 0 1 0 -1.73 0M113.0 1032.5a0.86 0.86 0 1 0 1.73 0a0.86 0.86 0 1 0 -1.73 0M116.7 1032.5a0.69 0.69 0 1 0 1.38 0a0.69 0.69 0 1 0 -1.38 0M126.4 1032.5a1.30 1.30 0 1 0 2.59 0a1.30 1.30 0 1 0 -2.59 0M130.5 1032.5a0.69 0.69 0 1 0 1.38 0a0.69 0.69 0 1 0 -1.38 0M81.3 1035.9a1.55 1.55 0 1 0 3.11 0a1.55 1.55 0 1 0 -3.11 0M92.3 1035.9a0.86 0.86 0 1 0 1.73 0a0.86 0.86 0 1 0 -1.73 0M95.6 1035.9a1.04 1.04 0 1 0 2.07 0a1.04 1.04 0 1 0 -2.07 0M98.5 1035.9a1.55 1.55 0 1 0 3.11 0a1.55 1.55 0 1 0 -3.11 0M106.0 1035.9a1.04 1.04 0 1 0 2.07 0a1.04 1.04 0 1 0 -2.07 0M123.0 1035.9a1.30 1.30 0 1 0 2.59 0a1.30 1.30 0 1 0 -2.59 0M127.0 1035.9a0.69 0.69 0 1 0 1.38 0a0.69 0.69 0 1 0 -1.38 0M130.5 1035.9a0.69 0.69 0 1 0 1.38 0a0.69 0.69 0 1 0 -1.38 0M61.4 1039.4a0.69 0.69 0 1 0 1.38 0a0.69 0.69 0 1 0 -1.38 0M64.5 1039.4a1.04 1.04 0 1 0 2.07 0a1.04 1.04 0 1 0 -2.07 0M74.9 1039.4a1.04 1.04 0 1 0 2.07 0a1.04 1.04 0 1 0 -2.07 0M78.3 1039.4a1.04 1.04 0 1 0 2.07 0a1.04 1.04 0 1 0 -2.07 0M85.0 1039.4a1.30 1.30 0 1 0 2.59 0a1.30 1.30 0 1 0 -2.59 0M89.0 1039.4a0.69 0.69 0 1 0 1.38 0a0.69 0.69 0 1 0 -1.38 0M91.9 1039.4a1.30 1.30 0 1 0 2.59 0a1.30 1.30 0 1 0 -2.59 0M99.4 1039.4a0.69 0.69 0 1 0 1.38 0a0.69 0.69 0 1 0 -1.38 0M112.4 1039.4a1.55 1.55 0 1 0 3.11 0a1.55 1.55 0 1 0 -3.11 0M119.3 1039.4a1.55 1.55 0 1 0 3.11 0a1.55 1.55 0 1 0 -3.11 0M126.7 1039.4a1.04 1.04 0 1 0 2.07 0a1.04 1.04 0 1 0 -2.07 0M137.2 1039.4a0.86 0.86 0 1 0 1.73 0a0.86 0.86 0 1 0 -1.73 0M147.4 1039.4a1.04 1.04 0 1 0 2.07 0a1.04 1.04 0 1 0 -2.07 0M157.3 1039.4a1.55 1.55 0 1 0 3.11 0a1.55 1.55 0 1 0 -3.11 0M61.1 1042.8a1.04 1.04 0 1 0 2.07 0a1.04 1.04 0 1 0 -2.07 0M71.8 1042.8a0.69 0.69 0 1 0 1.38 0a0.69 0.69 0 1 0 -1.38 0M78.1 1042.8a1.30 1.30 0 1 0 2.59 0a1.30 1.30 0 1 0 -2.59 0M81.8 1042.8a1.04 1.04 0 1 0 2.07 0a1.04 1.04 0 1 0 -2.07 0M85.2 1042.8a1.04 1.04 0 1 0 2.07 0a1.04 1.04 0 1 0 -2.07 0M88.4 1042.8a1.30 1.30 0 1 0 2.59 0a1.30 1.30 0 1 0 -2.59 0M92.3 1042.8a0.86 0.86 0 1 0 1.73 0a0.86 0.86 0 1 0 -1.73 0M95.6 1042.8a1.04 1.04 0 1 0 2.07 0a1.04 1.04 0 1 0 -2.07 0M106.3 1042.8a0.69 0.69 0 1 0 1.38 0a0.69 0.69 0 1 0 -1.38 0M109.8 1042.8a0.69 0.69 0 1 0 1.38 0a0.69 0.69 0 1 0 -1.38 0M123.4 1042.8a0.86 0.86 0 1 0 1.73 0a0.86 0.86 0 1 0 -1.73 0M136.8 1042.8a1.30 1.30 0 1 0 2.59 0a1.30 1.30 0 1 0 -2.59 0M140.7 1042.8a0.86 0.86 0 1 0 1.73 0a0.86 0.86 0 1 0 -1.73 0M147.6 1042.8a0.86 0.86 0 1 0 1.73 0a0.86 0.86 0 1 0 -1.73 0M150.4 1042.8a1.55 1.55 0 1 0 3.11 0a1.55 1.55 0 1 0 -3.11 0M157.3 1042.8a1.55 1.55 0 1 0 3.11 0a1.55 1.55 0 1 0 -3.11 0M161.0 1042.8a1.30 1.30 0 1 0 2.59 0a1.30 1.30 0 1 0 -2.59 0M61.2 1046.3a0.86 0.86 0 1 0 1.73 0a0.86 0.86 0 1 0 -1.73 0M64.7 1046.3a0.86 0.86 0 1 0 1.73 0a0.86 0.86 0 1 0 -1.73 0M68.3 1046.3a0.69 0.69 0 1 0 1.38 0a0.69 0.69 0 1 0 -1.38 0M71.4 1046.3a1.04 1.04 0 1 0 2.07 0a1.04 1.04 0 1 0 -2.07 0M78.3 1046.3a1.04 1.04 0 1 0 2.07 0a1.04 1.04 0 1 0 -2.07 0M92.3 1046.3a0.86 0.86 0 1 0 1.73 0a0.86 0.86 0 1 0 -1.73 0M109.2 1046.3a1.30 1.30 0 1 0 2.59 0a1.30 1.30 0 1 0 -2.59 0M123.6 1046.3a0.69 0.69 0 1 0 1.38 0a0.69 0.69 0 1 0 -1.38 0M130.5 1046.3a0.69 0.69 0 1 0 1.38 0a0.69 0.69 0 1 0 -1.38 0M140.5 1046.3a1.04 1.04 0 1 0 2.07 0a1.04 1.04 0 1 0 -2.07 0M143.7 1046.3a1.30 1.30 0 1 0 2.59 0a1.30 1.30 0 1 0 -2.59 0M154.5 1046.3a0.86 0.86 0 1 0 1.73 0a0.86 0.86 0 1 0 -1.73 0M50.7 1049.7a1.04 1.04 0 1 0 2.07 0a1.04 1.04 0 1 0 -2.07 0M53.6 1049.7a1.55 1.55 0 1 0 3.11 0a1.55 1.55 0 1 0 -3.11 0M60.5 1049.7a1.55 1.55 0 1 0 3.11 0a1.55 1.55 0 1 0 -3.11 0M71.4 1049.7a1.04 1.04 0 1 0 2.07 0a1.04 1.04 0 1 0 -2.07 0M82.1 1049.7a0.69 0.69 0 1 0 1.38 0a0.69 0.69 0 1 0 -1.38 0M85.4 1049.7a0.86 0.86 0 1 0 1.73 0a0.86 0.86 0 1 0 -1.73 0M129.6 1049.7a1.55 1.55 0 1 0 3.11 0a1.55 1.55 0 1 0 -3.11 0M143.7 1049.7a1.30 1.30 0 1 0 2.59 0a1.30 1.30 0 1 0 -2.59 0M147.2 1049.7a1.30 1.30 0 1 0 2.59 0a1.30 1.30 0 1 0 -2.59 0M161.4 1049.7a0.86 0.86 0 1 0 1.73 0a0.86 0.86 0 1 0 -1.73 0M50.2 1053.2a1.55 1.55 0 1 0 3.11 0a1.55 1.55 0 1 0 -3.11 0M53.6 1053.2a1.55 1.55 0 1 0 3.11 0a1.55 1.55 0 1 0 -3.11 0M64.7 1053.2a0.86 0.86 0 1 0 1.73 0a0.86 0.86 0 1 0 -1.73 0M71.2 1053.2a1.30 1.30 0 1 0 2.59 0a1.30 1.30 0 1 0 -2.59 0M74.9 1053.2a1.04 1.04 0 1 0 2.07 0a1.04 1.04 0 1 0 -2.07 0M77.8 1053.2a1.55 1.55 0 1 0 3.11 0a1.55 1.55 0 1 0 -3.11 0M85.6 1053.2a0.69 0.69 0 1 0 1.38 0a0.69 0.69 0 1 0 -1.38 0M140.7 1053.2a0.86 0.86 0 1 0 1.73 0a0.86 0.86 0 1 0 -1.73 0M143.7 1053.2a1.30 1.30 0 1 0 2.59 0a1.30 1.30 0 1 0 -2.59 0M147.6 1053.2a0.86 0.86 0 1 0 1.73 0a0.86 0.86 0 1 0 -1.73 0M158.0 1053.2a0.86 0.86 0 1 0 1.73 0a0.86 0.86 0 1 0 -1.73 0M161.6 1053.2a0.69 0.69 0 1 0 1.38 0a0.69 0.69 0 1 0 -1.38 0M57.3 1056.6a1.30 1.30 0 1 0 2.59 0a1.30 1.30 0 1 0 -2.59 0M71.8 1056.6a0.69 0.69 0 1 0 1.38 0a0.69 0.69 0 1 0 -1.38 0M75.0 1056.6a0.86 0.86 0 1 0 1.73 0a0.86 0.86 0 1 0 -1.73 0M78.7 1056.6a0.69 0.69 0 1 0 1.38 0a0.69 0.69 0 1 0 -1.38 0M130.1 1056.6a1.04 1.04 0 1 0 2.07 0a1.04 1.04 0 1 0 -2.07 0M133.6 1056.6a1.04 1.04 0 1 0 2.07 0a1.04 1.04 0 1 0 -2.07 0M137.2 1056.6a0.86 0.86 0 1 0 1.73 0a0.86 0.86 0 1 0 -1.73 0M158.1 1056.6a0.69 0.69 0 1 0 1.38 0a0.69 0.69 0 1 0 -1.38 0M54.3 1060.1a0.86 0.86 0 1 0 1.73 0a0.86 0.86 0 1 0 -1.73 0M78.1 1060.1a1.30 1.30 0 1 0 2.59 0a1.30 1.30 0 1 0 -2.59 0M82.1 1060.1a0.69 0.69 0 1 0 1.38 0a0.69 0.69 0 1 0 -1.38 0M84.7 1060.1a1.55 1.55 0 1 0 3.11 0a1.55 1.55 0 1 0 -3.11 0M126.4 1060.1a1.30 1.30 0 1 0 2.59 0a1.30 1.30 0 1 0 -2.59 0M136.8 1060.1a1.30 1.30 0 1 0 2.59 0a1.30 1.30 0 1 0 -2.59 0M140.5 1060.1a1.04 1.04 0 1 0 2.07 0a1.04 1.04 0 1 0 -2.07 0M144.1 1060.1a0.86 0.86 0 1 0 1.73 0a0.86 0.86 0 1 0 -1.73 0M158.0 1060.1a0.86 0.86 0 1 0 1.73 0a0.86 0.86 0 1 0 -1.73 0M160.7 1060.1a1.55 1.55 0 1 0 3.11 0a1.55 1.55 0 1 0 -3.11 0M50.7 1063.5a1.04 1.04 0 1 0 2.07 0a1.04 1.04 0 1 0 -2.07 0M60.5 1063.5a1.55 1.55 0 1 0 3.11 0a1.55 1.55 0 1 0 -3.11 0M68.1 1063.5a0.86 0.86 0 1 0 1.73 0a0.86 0.86 0 1 0 -1.73 0M70.9 1063.5a1.55 1.55 0 1 0 3.11 0a1.55 1.55 0 1 0 -3.11 0M75.0 1063.5a0.86 0.86 0 1 0 1.73 0a0.86 0.86 0 1 0 -1.73 0M77.8 1063.5a1.55 1.55 0 1 0 3.11 0a1.55 1.55 0 1 0 -3.11 0M85.4 1063.5a0.86 0.86 0 1 0 1.73 0a0.86 0.86 0 1 0 -1.73 0M127.0 1063.5a0.69 0.69 0 1 0 1.38 0a0.69 0.69 0 1 0 -1.38 0M129.9 1063.5a1.30 1.30 0 1 0 2.59 0a1.30 1.30 0 1 0 -2.59 0M136.5 1063.5a1.55 1.55 0 1 0 3.11 0a1.55 1.55 0 1 0 -3.11 0M140.0 1063.5a1.55 1.55 0 1 0 3.11 0a1.55 1.55 0 1 0 -3.11 0M143.7 1063.5a1.30 1.30 0 1 0 2.59 0a1.30 1.30 0 1 0 -2.59 0M161.2 1063.5a1.04 1.04 0 1 0 2.07 0a1.04 1.04 0 1 0 -2.07 0M50.2 1067.0a1.55 1.55 0 1 0 3.11 0a1.55 1.55 0 1 0 -3.11 0M75.0 1067.0a0.86 0.86 0 1 0 1.73 0a0.86 0.86 0 1 0 -1.73 0M85.6 1067.0a0.69 0.69 0 1 0 1.38 0a0.69 0.69 0 1 0 -1.38 0M126.4 1067.0a1.30 1.30 0 1 0 2.59 0a1.30 1.30 0 1 0 -2.59 0M129.6 1067.0a1.55 1.55 0 1 0 3.11 0a1.55 1.55 0 1 0 -3.11 0M137.2 1067.0a0.86 0.86 0 1 0 1.73 0a0.86 0.86 0 1 0 -1.73 0M140.7 1067.0a0.86 0.86 0 1 0 1.73 0a0.86 0.86 0 1 0 -1.73 0M161.2 1067.0a1.04 1.04 0 1 0 2.07 0a1.04 1.04 0 1 0 -2.07 0M61.2 1070.5a0.86 0.86 0 1 0 1.73 0a0.86 0.86 0 1 0 -1.73 0M71.4 1070.5a1.04 1.04 0 1 0 2.07 0a1.04 1.04 0 1 0 -2.07 0M78.1 1070.5a1.30 1.30 0 1 0 2.59 0a1.30 1.30 0 1 0 -2.59 0M126.7 1070.5a1.04 1.04 0 1 0 2.07 0a1.04 1.04 0 1 0 -2.07 0M130.5 1070.5a0.69 0.69 0 1 0 1.38 0a0.69 0.69 0 1 0 -1.38 0M133.3 1070.5a1.30 1.30 0 1 0 2.59 0a1.30 1.30 0 1 0 -2.59 0M140.9 1070.5a0.69 0.69 0 1 0 1.38 0a0.69 0.69 0 1 0 -1.38 0M50.4 1073.9a1.30 1.30 0 1 0 2.59 0a1.30 1.30 0 1 0 -2.59 0M60.8 1073.9a1.30 1.30 0 1 0 2.59 0a1.30 1.30 0 1 0 -2.59 0M64.5 1073.9a1.04 1.04 0 1 0 2.07 0a1.04 1.04 0 1 0 -2.07 0M71.6 1073.9a0.86 0.86 0 1 0 1.73 0a0.86 0.86 0 1 0 -1.73 0M74.4 1073.9a1.55 1.55 0 1 0 3.11 0a1.55 1.55 0 1 0 -3.11 0M78.3 1073.9a1.04 1.04 0 1 0 2.07 0a1.04 1.04 0 1 0 -2.07 0M85.2 1073.9a1.04 1.04 0 1 0 2.07 0a1.04 1.04 0 1 0 -2.07 0M126.2 1073.9a1.55 1.55 0 1 0 3.11 0a1.55 1.55 0 1 0 -3.11 0M129.9 1073.9a1.30 1.30 0 1 0 2.59 0a1.30 1.30 0 1 0 -2.59 0M144.0 1073.9a1.04 1.04 0 1 0 2.07 0a1.04 1.04 0 1 0 -2.07 0M154.1 1073.9a1.30 1.30 0 1 0 2.59 0a1.30 1.30 0 1 0 -2.59 0M158.1 1073.9a0.69 0.69 0 1 0 1.38 0a0.69 0.69 0 1 0 -1.38 0M161.4 1073.9a0.86 0.86 0 1 0 1.73 0a0.86 0.86 0 1 0 -1.73 0M61.1 1077.4a1.04 1.04 0 1 0 2.07 0a1.04 1.04 0 1 0 -2.07 0M68.0 1077.4a1.04 1.04 0 1 0 2.07 0a1.04 1.04 0 1 0 -2.07 0M71.2 1077.4a1.30 1.30 0 1 0 2.59 0a1.30 1.30 0 1 0 -2.59 0M85.6 1077.4a0.69 0.69 0 1 0 1.38 0a0.69 0.69 0 1 0 -1.38 0M126.7 1077.4a1.04 1.04 0 1 0 2.07 0a1.04 1.04 0 1 0 -2.07 0M130.5 1077.4a0.69 0.69 0 1 0 1.38 0a0.69 0.69 0 1 0 -1.38 0M137.4 1077.4a0.69 0.69 0 1 0 1.38 0a0.69 0.69 0 1 0 -1.38 0M147.2 1077.4a1.30 1.30 0 1 0 2.59 0a1.30 1.30 0 1 0 -2.59 0M151.0 1077.4a0.86 0.86 0 1 0 1.73 0a0.86 0.86 0 1 0 -1.73 0M161.6 1077.4a0.69 0.69 0 1 0 1.38 0a0.69 0.69 0 1 0 -1.38 0M64.5 1080.8a1.04 1.04 0 1 0 2.07 0a1.04 1.04 0 1 0 -2.07 0M67.4 1080.8a1.55 1.55 0 1 0 3.11 0a1.55 1.55 0 1 0 -3.11 0M74.6 1080.8a1.30 1.30 0 1 0 2.59 0a1.30 1.30 0 1 0 -2.59 0M126.7 1080.8a1.04 1.04 0 1 0 2.07 0a1.04 1.04 0 1 0 -2.07 0M130.1 1080.8a1.04 1.04 0 1 0 2.07 0a1.04 1.04 0 1 0 -2.07 0M133.6 1080.8a1.04 1.04 0 1 0 2.07 0a1.04 1.04 0 1 0 -2.07 0M137.2 1080.8a0.86 0.86 0 1 0 1.73 0a0.86 0.86 0 1 0 -1.73 0M140.0 1080.8a1.55 1.55 0 1 0 3.11 0a1.55 1.55 0 1 0 -3.11 0M158.0 1080.8a0.86 0.86 0 1 0 1.73 0a0.86 0.86 0 1 0 -1.73 0M160.7 1080.8a1.55 1.55 0 1 0 3.11 0a1.55 1.55 0 1 0 -3.11 0M57.1 1084.3a1.55 1.55 0 1 0 3.11 0a1.55 1.55 0 1 0 -3.11 0M61.4 1084.3a0.69 0.69 0 1 0 1.38 0a0.69 0.69 0 1 0 -1.38 0M64.7 1084.3a0.86 0.86 0 1 0 1.73 0a0.86 0.86 0 1 0 -1.73 0M68.3 1084.3a0.69 0.69 0 1 0 1.38 0a0.69 0.69 0 1 0 -1.38 0M75.0 1084.3a0.86 0.86 0 1 0 1.73 0a0.86 0.86 0 1 0 -1.73 0M78.1 1084.3a1.30 1.30 0 1 0 2.59 0a1.30 1.30 0 1 0 -2.59 0M81.5 1084.3a1.30 1.30 0 1 0 2.59 0a1.30 1.30 0 1 0 -2.59 0M84.7 1084.3a1.55 1.55 0 1 0 3.11 0a1.55 1.55 0 1 0 -3.11 0M143.7 1084.3a1.30 1.30 0 1 0 2.59 0a1.30 1.30 0 1 0 -2.59 0M151.2 1084.3a0.69 0.69 0 1 0 1.38 0a0.69 0.69 0 1 0 -1.38 0M161.0 1084.3a1.30 1.30 0 1 0 2.59 0a1.30 1.30 0 1 0 -2.59 0M50.2 1087.7a1.55 1.55 0 1 0 3.11 0a1.55 1.55 0 1 0 -3.11 0M54.3 1087.7a0.86 0.86 0 1 0 1.73 0a0.86 0.86 0 1 0 -1.73 0M60.5 1087.7a1.55 1.55 0 1 0 3.11 0a1.55 1.55 0 1 0 -3.11 0M74.4 1087.7a1.55 1.55 0 1 0 3.11 0a1.55 1.55 0 1 0 -3.11 0M81.5 1087.7a1.30 1.30 0 1 0 2.59 0a1.30 1.30 0 1 0 -2.59 0M84.7 1087.7a1.55 1.55 0 1 0 3.11 0a1.55 1.55 0 1 0 -3.11 0M91.6 1087.7a1.55 1.55 0 1 0 3.11 0a1.55 1.55 0 1 0 -3.11 0M98.8 1087.7a1.30 1.30 0 1 0 2.59 0a1.30 1.30 0 1 0 -2.59 0M102.2 1087.7a1.30 1.30 0 1 0 2.59 0a1.30 1.30 0 1 0 -2.59 0M109.6 1087.7a0.86 0.86 0 1 0 1.73 0a0.86 0.86 0 1 0 -1.73 0M119.5 1087.7a1.30 1.30 0 1 0 2.59 0a1.30 1.30 0 1 0 -2.59 0M122.7 1087.7a1.55 1.55 0 1 0 3.11 0a1.55 1.55 0 1 0 -3.11 0M127.0 1087.7a0.69 0.69 0 1 0 1.38 0a0.69 0.69 0 1 0 -1.38 0M137.4 1087.7a0.69 0.69 0 1 0 1.38 0a0.69 0.69 0 1 0 -1.38 0M154.7 1087.7a0.69 0.69 0 1 0 1.38 0a0.69 0.69 0 1 0 -1.38 0M157.8 1087.7a1.04 1.04 0 1 0 2.07 0a1.04 1.04 0 1 0 -2.07 0M50.7 1091.2a1.04 1.04 0 1 0 2.07 0a1.04 1.04 0 1 0 -2.07 0M57.9 1091.2a0.69 0.69 0 1 0 1.38 0a0.69 0.69 0 1 0 -1.38 0M64.7 1091.2a0.86 0.86 0 1 0 1.73 0a0.86 0.86 0 1 0 -1.73 0M74.9 1091.2a1.04 1.04 0 1 0 2.07 0a1.04 1.04 0 1 0 -2.07 0M77.8 1091.2a1.55 1.55 0 1 0 3.11 0a1.55 1.55 0 1 0 -3.11 0M81.5 1091.2a1.30 1.30 0 1 0 2.59 0a1.30 1.30 0 1 0 -2.59 0M102.0 1091.2a1.55 1.55 0 1 0 3.11 0a1.55 1.55 0 1 0 -3.11 0M122.7 1091.2a1.55 1.55 0 1 0 3.11 0a1.55 1.55 0 1 0 -3.11 0M126.7 1091.2a1.04 1.04 0 1 0 2.07 0a1.04 1.04 0 1 0 -2.07 0M129.9 1091.2a1.30 1.30 0 1 0 2.59 0a1.30 1.30 0 1 0 -2.59 0M133.1 1091.2a1.55 1.55 0 1 0 3.11 0a1.55 1.55 0 1 0 -3.11 0M136.5 1091.2a1.55 1.55 0 1 0 3.11 0a1.55 1.55 0 1 0 -3.11 0M150.9 1091.2a1.04 1.04 0 1 0 2.07 0a1.04 1.04 0 1 0 -2.07 0M154.3 1091.2a1.04 1.04 0 1 0 2.07 0a1.04 1.04 0 1 0 -2.07 0M161.0 1091.2a1.30 1.30 0 1 0 2.59 0a1.30 1.30 0 1 0 -2.59 0M50.9 1094.6a0.86 0.86 0 1 0 1.73 0a0.86 0.86 0 1 0 -1.73 0M61.2 1094.6a0.86 0.86 0 1 0 1.73 0a0.86 0.86 0 1 0 -1.73 0M67.4 1094.6a1.55 1.55 0 1 0 3.11 0a1.55 1.55 0 1 0 -3.11 0M70.9 1094.6a1.55 1.55 0 1 0 3.11 0a1.55 1.55 0 1 0 -3.11 0M78.7 1094.6a0.69 0.69 0 1 0 1.38 0a0.69 0.69 0 1 0 -1.38 0M85.6 1094.6a0.69 0.69 0 1 0 1.38 0a0.69 0.69 0 1 0 -1.38 0M92.5 1094.6a0.69 0.69 0 1 0 1.38 0a0.69 0.69 0 1 0 -1.38 0M108.9 1094.6a1.55 1.55 0 1 0 3.11 0a1.55 1.55 0 1 0 -3.11 0M115.8 1094.6a1.55 1.55 0 1 0 3.11 0a1.55 1.55 0 1 0 -3.11 0M123.2 1094.6a1.04 1.04 0 1 0 2.07 0a1.04 1.04 0 1 0 -2.07 0M126.2 1094.6a1.55 1.55 0 1 0 3.11 0a1.55 1.55 0 1 0 -3.11 0M129.9 1094.6a1.30 1.30 0 1 0 2.59 0a1.30 1.30 0 1 0 -2.59 0M151.0 1094.6a0.86 0.86 0 1 0 1.73 0a0.86 0.86 0 1 0 -1.73 0M157.8 1094.6a1.04 1.04 0 1 0 2.07 0a1.04 1.04 0 1 0 -2.07 0M78.3 1098.1a1.04 1.04 0 1 0 2.07 0a1.04 1.04 0 1 0 -2.07 0M85.6 1098.1a0.69 0.69 0 1 0 1.38 0a0.69 0.69 0 1 0 -1.38 0M88.4 1098.1a1.30 1.30 0 1 0 2.59 0a1.30 1.30 0 1 0 -2.59 0M92.3 1098.1a0.86 0.86 0 1 0 1.73 0a0.86 0.86 0 1 0 -1.73 0M102.0 1098.1a1.55 1.55 0 1 0 3.11 0a1.55 1.55 0 1 0 -3.11 0M112.9 1098.1a1.04 1.04 0 1 0 2.07 0a1.04 1.04 0 1 0 -2.07 0M116.1 1098.1a1.30 1.30 0 1 0 2.59 0a1.30 1.30 0 1 0 -2.59 0M119.3 1098.1a1.55 1.55 0 1 0 3.11 0a1.55 1.55 0 1 0 -3.11 0M123.4 1098.1a0.86 0.86 0 1 0 1.73 0a0.86 0.86 0 1 0 -1.73 0M127.0 1098.1a0.69 0.69 0 1 0 1.38 0a0.69 0.69 0 1 0 -1.38 0M151.0 1098.1a0.86 0.86 0 1 0 1.73 0a0.86 0.86 0 1 0 -1.73 0M154.1 1098.1a1.30 1.30 0 1 0 2.59 0a1.30 1.30 0 1 0 -2.59 0M89.0 1101.5a0.69 0.69 0 1 0 1.38 0a0.69 0.69 0 1 0 -1.38 0M91.6 1101.5a1.55 1.55 0 1 0 3.11 0a1.55 1.55 0 1 0 -3.11 0M95.1 1101.5a1.55 1.55 0 1 0 3.11 0a1.55 1.55 0 1 0 -3.11 0M102.7 1101.5a0.86 0.86 0 1 0 1.73 0a0.86 0.86 0 1 0 -1.73 0M123.2 1101.5a1.04 1.04 0 1 0 2.07 0a1.04 1.04 0 1 0 -2.07 0M130.5 1101.5a0.69 0.69 0 1 0 1.38 0a0.69 0.69 0 1 0 -1.38 0M153.8 1101.5a1.55 1.55 0 1 0 3.11 0a1.55 1.55 0 1 0 -3.11 0M78.7 1105.0a0.69 0.69 0 1 0 1.38 0a0.69 0.69 0 1 0 -1.38 0M82.0 1105.0a0.86 0.86 0 1 0 1.73 0a0.86 0.86 0 1 0 -1.73 0M84.7 1105.0a1.55 1.55 0 1 0 3.11 0a1.55 1.55 0 1 0 -3.11 0M91.9 1105.0a1.30 1.30 0 1 0 2.59 0a1.30 1.30 0 1 0 -2.59 0M99.1 1105.0a1.04 1.04 0 1 0 2.07 0a1.04 1.04 0 1 0 -2.07 0M112.9 1105.0a1.04 1.04 0 1 0 2.07 0a1.04 1.04 0 1 0 -2.07 0M116.5 1105.0a0.86 0.86 0 1 0 1.73 0a0.86 0.86 0 1 0 -1.73 0M120.1 1105.0a0.69 0.69 0 1 0 1.38 0a0.69 0.69 0 1 0 -1.38 0M122.7 1105.0a1.55 1.55 0 1 0 3.11 0a1.55 1.55 0 1 0 -3.11 0M130.1 1105.0a1.04 1.04 0 1 0 2.07 0a1.04 1.04 0 1 0 -2.07 0M95.3 1108.5a1.30 1.30 0 1 0 2.59 0a1.30 1.30 0 1 0 -2.59 0M99.2 1108.5a0.86 0.86 0 1 0 1.73 0a0.86 0.86 0 1 0 -1.73 0M102.0 1108.5a1.55 1.55 0 1 0 3.11 0a1.55 1.55 0 1 0 -3.11 0M106.0 1108.5a1.04 1.04 0 1 0 2.07 0a1.04 1.04 0 1 0 -2.07 0M109.2 1108.5a1.30 1.30 0 1 0 2.59 0a1.30 1.30 0 1 0 -2.59 0M153.8 1108.5a1.55 1.55 0 1 0 3.11 0a1.55 1.55 0 1 0 -3.11 0M157.5 1108.5a1.30 1.30 0 1 0 2.59 0a1.30 1.30 0 1 0 -2.59 0M161.6 1108.5a0.69 0.69 0 1 0 1.38 0a0.69 0.69 0 1 0 -1.38 0M78.5 1111.9a0.86 0.86 0 1 0 1.73 0a0.86 0.86 0 1 0 -1.73 0M82.0 1111.9a0.86 0.86 0 1 0 1.73 0a0.86 0.86 0 1 0 -1.73 0M85.4 1111.9a0.86 0.86 0 1 0 1.73 0a0.86 0.86 0 1 0 -1.73 0M102.2 1111.9a1.30 1.30 0 1 0 2.59 0a1.30 1.30 0 1 0 -2.59 0M123.6 1111.9a0.69 0.69 0 1 0 1.38 0a0.69 0.69 0 1 0 -1.38 0M129.6 1111.9a1.55 1.55 0 1 0 3.11 0a1.55 1.55 0 1 0 -3.11 0M133.6 1111.9a1.04 1.04 0 1 0 2.07 0a1.04 1.04 0 1 0 -2.07 0M137.1 1111.9a1.04 1.04 0 1 0 2.07 0a1.04 1.04 0 1 0 -2.07 0M144.0 1111.9a1.04 1.04 0 1 0 2.07 0a1.04 1.04 0 1 0 -2.07 0M147.8 1111.9a0.69 0.69 0 1 0 1.38 0a0.69 0.69 0 1 0 -1.38 0M84.7 1115.4a1.55 1.55 0 1 0 3.11 0a1.55 1.55 0 1 0 -3.11 0M88.9 1115.4a0.86 0.86 0 1 0 1.73 0a0.86 0.86 0 1 0 -1.73 0M92.3 1115.4a0.86 0.86 0 1 0 1.73 0a0.86 0.86 0 1 0 -1.73 0M95.6 1115.4a1.04 1.04 0 1 0 2.07 0a1.04 1.04 0 1 0 -2.07 0M106.3 1115.4a0.69 0.69 0 1 0 1.38 0a0.69 0.69 0 1 0 -1.38 0M109.2 1115.4a1.30 1.30 0 1 0 2.59 0a1.30 1.30 0 1 0 -2.59 0M113.2 1115.4a0.69 0.69 0 1 0 1.38 0a0.69 0.69 0 1 0 -1.38 0M122.7 1115.4a1.55 1.55 0 1 0 3.11 0a1.55 1.55 0 1 0 -3.11 0M126.4 1115.4a1.30 1.30 0 1 0 2.59 0a1.30 1.30 0 1 0 -2.59 0M133.6 1115.4a1.04 1.04 0 1 0 2.07 0a1.04 1.04 0 1 0 -2.07 0M137.2 1115.4a0.86 0.86 0 1 0 1.73 0a0.86 0.86 0 1 0 -1.73 0M147.8 1115.4a0.69 0.69 0 1 0 1.38 0a0.69 0.69 0 1 0 -1.38 0M153.8 1115.4a1.55 1.55 0 1 0 3.11 0a1.55 1.55 0 1 0 -3.11 0M157.5 1115.4a1.30 1.30 0 1 0 2.59 0a1.30 1.30 0 1 0 -2.59 0M78.1 1118.8a1.30 1.30 0 1 0 2.59 0a1.30 1.30 0 1 0 -2.59 0M81.8 1118.8a1.04 1.04 0 1 0 2.07 0a1.04 1.04 0 1 0 -2.07 0M85.4 1118.8a0.86 0.86 0 1 0 1.73 0a0.86 0.86 0 1 0 -1.73 0M88.4 1118.8a1.30 1.30 0 1 0 2.59 0a1.30 1.30 0 1 0 -2.59 0M95.9 1118.8a0.69 0.69 0 1 0 1.38 0a0.69 0.69 0 1 0 -1.38 0M98.5 1118.8a1.55 1.55 0 1 0 3.11 0a1.55 1.55 0 1 0 -3.11 0M106.1 1118.8a0.86 0.86 0 1 0 1.73 0a0.86 0.86 0 1 0 -1.73 0M108.9 1118.8a1.55 1.55 0 1 0 3.11 0a1.55 1.55 0 1 0 -3.11 0M112.6 1118.8a1.30 1.30 0 1 0 2.59 0a1.30 1.30 0 1 0 -2.59 0M119.3 1118.8a1.55 1.55 0 1 0 3.11 0a1.55 1.55 0 1 0 -3.11 0M122.7 1118.8a1.55 1.55 0 1 0 3.11 0a1.55 1.55 0 1 0 -3.11 0M126.7 1118.8a1.04 1.04 0 1 0 2.07 0a1.04 1.04 0 1 0 -2.07 0M133.6 1118.8a1.04 1.04 0 1 0 2.07 0a1.04 1.04 0 1 0 -2.07 0M150.6 1118.8a1.30 1.30 0 1 0 2.59 0a1.30 1.30 0 1 0 -2.59 0M154.7 1118.8a0.69 0.69 0 1 0 1.38 0a0.69 0.69 0 1 0 -1.38 0M85.6 1122.3a0.69 0.69 0 1 0 1.38 0a0.69 0.69 0 1 0 -1.38 0M91.6 1122.3a1.55 1.55 0 1 0 3.11 0a1.55 1.55 0 1 0 -3.11 0M106.1 1122.3a0.86 0.86 0 1 0 1.73 0a0.86 0.86 0 1 0 -1.73 0M112.6 1122.3a1.30 1.30 0 1 0 2.59 0a1.30 1.30 0 1 0 -2.59 0M116.1 1122.3a1.30 1.30 0 1 0 2.59 0a1.30 1.30 0 1 0 -2.59 0M120.0 1122.3a0.86 0.86 0 1 0 1.73 0a0.86 0.86 0 1 0 -1.73 0M129.9 1122.3a1.30 1.30 0 1 0 2.59 0a1.30 1.30 0 1 0 -2.59 0M140.3 1122.3a1.30 1.30 0 1 0 2.59 0a1.30 1.30 0 1 0 -2.59 0M144.1 1122.3a0.86 0.86 0 1 0 1.73 0a0.86 0.86 0 1 0 -1.73 0M161.0 1122.3a1.30 1.30 0 1 0 2.59 0a1.30 1.30 0 1 0 -2.59 0" fill="#000"/><rect x="91.6" y="1051.6" width="30.8" height="30.4" rx="5.5" fill="#3f7be0"/><path d="M115.6 1074.2A10.6 10.6 0 1 1 117.6 1066.5" fill="none" stroke="#fff" stroke-width="3.6" stroke-linecap="round"/><path d="M105 1063.5l7 3.6-2.6 1.200-1.200 2.800z" fill="#fff"/><circle cx="114.8" cy="1074.3" r="3" fill="#f2a340"/></svg>
<svg class="abs" style="left:0;top:0" width="200" height="130" viewBox="0 0 200 130"><defs><linearGradient id="tg" x1="0" y1="0" x2="1" y2="1"><stop offset="0" stop-color="#d6d0cd"/><stop offset=".45" stop-color="#e0dbd8"/><stop offset="1" stop-color="#e6e2df"/></linearGradient><filter id="tb" x="-10%" y="-10%" width="120%" height="120%"><feGaussianBlur stdDeviation="2.5"/></filter><filter id="ts" x="-10%" y="-10%" width="120%" height="120%"><feGaussianBlur stdDeviation="1.1"/></filter></defs><path d="M-2.0 112.0 L2.0 109.5 L6.1 107.1 L10.9 106.4 L14.7 103.4 L19.3 101.6 L23.3 98.7 L27.1 95.4 L32.0 94.0 L34.9 90.5 L39.1 89.2 L42.1 86.0 L45.7 83.8 L49.9 82.4 L54.6 79.9 L57.3 75.0 L61.7 72.2 L67.1 71.2 L72.4 70.4 L77.0 67.6 L80.6 64.7 L85.3 63.7 L87.5 58.9 L92.3 57.9 L95.5 55.1 L99.0 52.8 L102.7 50.8 L106.9 49.7 L111.0 47.7 L113.0 43.3 L117.1 41.1 L120.9 38.6 L124.0 35.3 L127.9 33.0 L130.6 29.2 L134.6 27.0 L138.3 24.3 L142.8 23.0 L146.1 19.8 L149.8 17.3 L154.1 14.9 L157.9 11.7 L161.8 8.8 L166.3 7.0 L169.9 4.0 L172.8 0.1 L177.1 -1.9" fill="none" stroke="#fff" stroke-width="16" opacity=".6" filter="url(#tb)" transform="translate(5,7)"/><path d="M-2.0 112.0 L2.0 109.5 L6.1 107.1 L10.9 106.4 L14.7 103.4 L19.3 101.6 L23.3 98.7 L27.1 95.4 L32.0 94.0 L34.9 90.5 L39.1 89.2 L42.1 86.0 L45.7 83.8 L49.9 82.4 L54.6 79.9 L57.3 75.0 L61.7 72.2 L67.1 71.2 L72.4 70.4 L77.0 67.6 L80.6 64.7 L85.3 63.7 L87.5 58.9 L92.3 57.9 L95.5 55.1 L99.0 52.8 L102.7 50.8 L106.9 49.7 L111.0 47.7 L113.0 43.3 L117.1 41.1 L120.9 38.6 L124.0 35.3 L127.9 33.0 L130.6 29.2 L134.6 27.0 L138.3 24.3 L142.8 23.0 L146.1 19.8 L149.8 17.3 L154.1 14.9 L157.9 11.7 L161.8 8.8 L166.3 7.0 L169.9 4.0 L172.8 0.1 L177.1 -1.9" fill="none" stroke="#5f5a57" stroke-width="3.2" opacity=".75" filter="url(#ts)" transform="translate(1,1.6)"/><path d="M-2.0 112.0 L2.0 109.5 L6.1 107.1 L10.9 106.4 L14.7 103.4 L19.3 101.6 L23.3 98.7 L27.1 95.4 L32.0 94.0 L34.9 90.5 L39.1 89.2 L42.1 86.0 L45.7 83.8 L49.9 82.4 L54.6 79.9 L57.3 75.0 L61.7 72.2 L67.1 71.2 L72.4 70.4 L77.0 67.6 L80.6 64.7 L85.3 63.7 L87.5 58.9 L92.3 57.9 L95.5 55.1 L99.0 52.8 L102.7 50.8 L106.9 49.7 L111.0 47.7 L113.0 43.3 L117.1 41.1 L120.9 38.6 L124.0 35.3 L127.9 33.0 L130.6 29.2 L134.6 27.0 L138.3 24.3 L142.8 23.0 L146.1 19.8 L149.8 17.3 L154.1 14.9 L157.9 11.7 L161.8 8.8 L166.3 7.0 L169.9 4.0 L172.8 0.1 L177.1 -1.9 L-2 -2Z" fill="url(#tg)"/><path d="M-2.0 112.0 L2.0 109.5 L6.1 107.1 L10.9 106.4 L14.7 103.4 L19.3 101.6 L23.3 98.7 L27.1 95.4 L32.0 94.0 L34.9 90.5 L39.1 89.2 L42.1 86.0 L45.7 83.8 L49.9 82.4 L54.6 79.9 L57.3 75.0 L61.7 72.2 L67.1 71.2 L72.4 70.4 L77.0 67.6 L80.6 64.7 L85.3 63.7 L87.5 58.9 L92.3 57.9 L95.5 55.1 L99.0 52.8 L102.7 50.8 L106.9 49.7 L111.0 47.7 L113.0 43.3 L117.1 41.1 L120.9 38.6 L124.0 35.3 L127.9 33.0 L130.6 29.2 L134.6 27.0 L138.3 24.3 L142.8 23.0 L146.1 19.8 L149.8 17.3 L154.1 14.9 L157.9 11.7 L161.8 8.8 L166.3 7.0 L169.9 4.0 L172.8 0.1 L177.1 -1.9" fill="none" stroke="#c9c3bf" stroke-width=".8" opacity=".8"/></svg>
<div class="abs" style="left:86px;top:71.0px;width:628px;height:1px;background:#cbcbcb"></div>
<div class="abs" style="left:86px;top:75.0px;width:628px;height:1px;background:#cbcbcb"></div>
<div class="abs" style="left:86px;top:151.5px;width:628px;height:1px;background:#cbcbcb"></div>
<div class="abs" style="left:86px;top:155.5px;width:628px;height:1px;background:#cbcbcb"></div>
<svg class="abs" style="left:50px;top:60px" width="180" height="80" viewBox="50 60 180 80" fill="none" stroke="#d68484" stroke-width=".85" stroke-linecap="round" stroke-linejoin="round"><path d="M67 88C70 83 78 77.5 85 77C88 77 88.5 79 86 81C82 84 74 86 69 85"/><path d="M87.5 76.5C84 88 76 108 69 121C65 128 61 132.5 59 131.5C57 130.5 58.5 125 62.5 119C69 109.5 79 101.5 89 96.5"/><path d="M91.5 96.5c-1 2-2.2 4.5-1.200 5 1.200 0 3-2 4.400-4.400M94.600 91.400l.4-.7M97.5 97c-.8 2-1.600 4.300-1 4.500 1.200-2 3.200-5.200 5.200-5.200 1 .2-.2 3.300 .2 4.600 1.400 .4 4.600-2 6.600-4.200"/><path d="M136.5 75.5C133.5 84 129.5 93 127.5 100"/><path d="M146.5 75C140.5 77 133.5 88 133.500 95C133.500 100 137.500 100 140.500 97C146 91 150 82 149.500 77C149.300 75.200 148 74.500 146.500 75Z"/><path d="M152.300 92.5l.5-.1M161.500 79c-3 0-5.600 3-5.100 5.600 .5 2 3 2 5.100 0M170.500 77.500c-3 .5-5 4-4 6 1 1.500 4 .5 5-2.500 .5-2-.5-3.500-1-3.500zM176.500 84c1.500-3 3.500-6.500 5-6.500 .8 .5-.8 5 0 5.500 2-1 4-6 6-6 .8 .5-.8 5 0 5.500 2-1 4-6 6-6 1 .5-1 5 .5 6 3 0 9-6 15-10.500"/></svg>
<svg class="t" style="left:89.00px;top:93.54px;width:365.11px;height:42.00px;fill:#000;" viewBox="0 -880 8693 1000"><text x="0" y="0" textLength="8693" font-weight="bold">2022年全国各省市</text></svg>
<svg class="t" style="left:455.31px;top:93.54px;width:171.60px;height:42.00px;fill:#df3d33;" viewBox="0 -880 4086 1000"><text x="0" y="0" textLength="4086" font-weight="bold">人口数据</text></svg>
<svg class="t" style="left:628.11px;top:93.54px;width:85.20px;height:42.00px;fill:#000;" viewBox="0 -880 2029 1000"><text x="0" y="0" textLength="2029" font-weight="bold">公布</text></svg>
<svg class="abs" style="left:205.5px;top:182px" width="27" height="18" viewBox="0 0 27 18"><path d="M13.5 0L27 18H0z" fill="#e0413a"/></svg>
<svg class="t" style="left:243.00px;top:176.10px;width:129.34px;height:30.00px;fill:#111;" viewBox="0 -880 4311 1000"><text x="0" y="0" textLength="4311" font-weight="300">17个增加</text></svg>
<svg class="abs" style="left:423.5px;top:182px" width="27" height="18" viewBox="0 0 27 18"><path d="M0 0H27L13.5 18z" fill="#1a5ea8"/></svg>
<svg class="t" style="left:463.50px;top:176.10px;width:129.34px;height:30.00px;fill:#111;" viewBox="0 -880 4311 1000"><text x="0" y="0" textLength="4311" font-weight="300">12个减少</text></svg>
<svg class="abs" style="left:315px;top:236px" width="18" height="18" viewBox="0 0 34 34"><path d="M27.8 25A13 13 0 1 1 30 17" fill="none" stroke="#4a6ad8" stroke-width="5.6" stroke-linecap="round"/><path d="M12.5 11.5l5.500 1.500 8 9-3.500 2.500-8-8.500z" fill="#4a6ad8"/><circle cx="27" cy="27.500" r="4.300" fill="#f0b050"/></svg>
<svg class="t" style="left:338.00px;top:237.25px;width:62.60px;height:15.50px;fill:#4a6ad8;" viewBox="0 -880 4039 1000"><text x="0" y="0" textLength="4039" font-weight="bold">金十数据</text></svg>
<svg class="t" style="left:405.50px;top:239.50px;width:78.47px;height:11.00px;fill:#8a8a8a;" viewBox="0 -880 7134 1000"><text x="0" y="0" textLength="7134">2023-04-10制图</text></svg>
<svg class="t" style="left:76.00px;top:351.50px;width:11.56px;height:12.00px;fill:#111;" viewBox="0 -880 963 1000"><text x="0" y="0" textLength="963" lengthAdjust="spacingAndGlyphs" font-weight="bold">%</text></svg>
<svg class="t" style="left:94.00px;top:350.75px;width:104.55px;height:12.50px;fill:#111;" viewBox="0 -880 8364 1000"><text x="0" y="0" textLength="8364">常住人口同比变化</text></svg>
<svg class="abs" style="left:75px;top:379px;fill:#000" width="11.5" height="13" viewBox="0 0 100 100" preserveAspectRatio="none"><path d="M51 0C33 0 22 12 22 28c0 5 1 9 2 12-3 0-4 4-2 7 1 3 3 4 5 4 2 5 5 9 8 11 0 4-2 6-7 8L10 77C4 80 1 85 1 92v4c0 2 2 4 4 4h90c2 0 4-2 4-4v-4c0-7-3-12-9-15L72 70c-5-2-7-4-7-8 3-2 6-6 8-11 2 0 4-1 5-4 2-3 1-7-2-7 1-3 2-7 2-12C78 12 67 0 51 0z"/></svg>
<svg class="t" style="left:94.00px;top:378.75px;width:163.15px;height:12.50px;fill:#111;" viewBox="0 -880 13052 1000"><text x="0" y="0" textLength="13052">2022年末常住人口（万人）</text></svg>
<svg class="t" style="left:188.00px;top:1041.00px;width:187.20px;height:18.00px;fill:#111;" viewBox="0 -880 10400 1000"><text x="0" y="0" textLength="10400">扫码查看图中完整数据</text></svg>
<svg class="t" style="left:188.00px;top:1074.00px;width:211.30px;height:18.00px;fill:#111;" viewBox="0 -880 11739 1000"><text x="0" y="0" textLength="11739">关注我们 有趣有料有数据</text></svg>
<svg class="t" style="left:428.00px;top:1039.75px;width:109.70px;height:15.50px;fill:#222;" viewBox="0 -880 7077 1000"><text x="0" y="0" textLength="7077" font-weight="300">出品：金十数据</text></svg>
<svg class="t" style="left:428.00px;top:1078.75px;width:94.00px;height:15.50px;fill:#222;" viewBox="0 -880 6065 1000"><text x="0" y="0" textLength="6065" font-weight="300">设计：周宁君</text></svg>
<svg class="t" style="left:587.50px;top:1039.75px;width:109.70px;height:15.50px;fill:#222;" viewBox="0 -880 7077 1000"><text x="0" y="0" textLength="7077" font-weight="300">策划：财料小组</text></svg>
<svg class="t" style="left:587.50px;top:1078.75px;width:172.50px;height:15.50px;fill:#222;" viewBox="0 -880 11129 1000"><text x="0" y="0" textLength="11129" font-weight="300">数据来源：各省市统计局</text></svg>
</body></html>
